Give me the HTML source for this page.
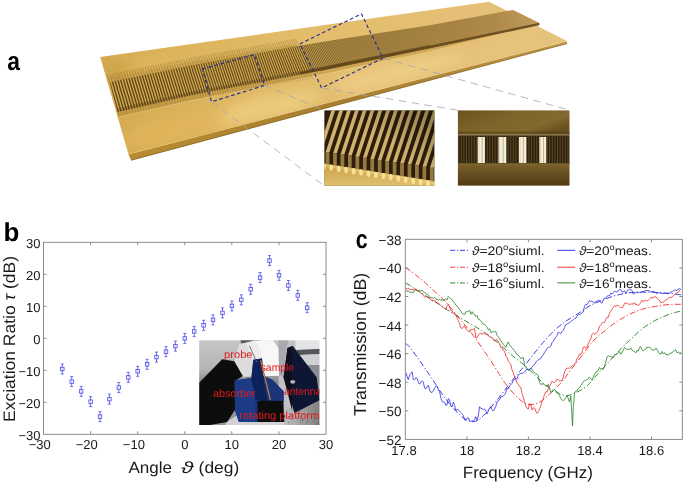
<!DOCTYPE html>
<html><head><meta charset="utf-8"><title>Figure</title>
<style>html,body{margin:0;padding:0;background:#fff;}body{width:685px;height:484px;overflow:hidden;font-family:"Liberation Sans", sans-serif;}svg{display:block;will-change:transform;}text{text-rendering:geometricPrecision;}</style>
</head><body>
<svg width="685" height="484" viewBox="0 0 685 484" font-family='"Liberation Sans", sans-serif'>
<rect width="685" height="484" fill="#fff"/>
<defs>
<linearGradient id="gPlate" gradientUnits="userSpaceOnUse" x1="100" y1="110" x2="567" y2="20">
 <stop offset="0" stop-color="#d4aa50"/><stop offset="0.3" stop-color="#deb762"/><stop offset="0.55" stop-color="#e4bf72"/><stop offset="0.8" stop-color="#e4bf74"/><stop offset="1" stop-color="#e6c47e"/>
</linearGradient>
<linearGradient id="gFront" gradientUnits="userSpaceOnUse" x1="128" y1="157" x2="567" y2="42">
 <stop offset="0" stop-color="#b88c30"/><stop offset="0.5" stop-color="#a87e2e"/><stop offset="1" stop-color="#c29844"/>
</linearGradient>
<linearGradient id="gBand" gradientUnits="userSpaceOnUse" x1="110" y1="0" x2="540" y2="0">
 <stop offset="0" stop-color="#604418"/><stop offset="0.44" stop-color="#684c1c"/><stop offset="0.6" stop-color="#86682e"/><stop offset="0.75" stop-color="#a07c3e"/><stop offset="0.9" stop-color="#b08a4a"/><stop offset="1" stop-color="#c09c5e"/>
</linearGradient>
<filter id="bl1" x="-5%" y="-5%" width="110%" height="110%"><feGaussianBlur stdDeviation="0.6"/></filter>
<filter id="bl2" x="-20%" y="-20%" width="140%" height="140%"><feGaussianBlur stdDeviation="6"/></filter>
<filter id="bl05" x="-5%" y="-5%" width="110%" height="110%"><feGaussianBlur stdDeviation="0.35"/></filter>
<filter id="bl03" x="-5%" y="-5%" width="110%" height="110%"><feGaussianBlur stdDeviation="0.25"/></filter>
<clipPath id="cpPlate"><polygon points="100.2,57 489,1.8 567,41 128.5,154.2"/></clipPath>
</defs>
<g filter="url(#bl03)">
<polygon points="128.5,154.2 567,41.2 567,43.8 131.2,160.4" fill="url(#gFront)"/><polyline points="131.2,160.2 567,43.6" stroke="#7a5a1e" stroke-width="0.9" fill="none" opacity="0.7"/>
<polygon points="100.2,57 489,1.8 567,41 128.5,154.2" fill="url(#gPlate)"/>
<polyline points="128.5,154.2 567,41.2" stroke="#e6c678" stroke-width="0.7" fill="none" opacity="0.7"/>
</g>
<g clip-path="url(#cpPlate)" filter="url(#bl2)"><ellipse cx="265" cy="108" rx="60" ry="12" fill="#efcc80" opacity="0.85" transform="rotate(-14 265 108)"/><ellipse cx="400" cy="72" rx="70" ry="10" fill="#f0d08a" opacity="0.8" transform="rotate(-14 400 72)"/><ellipse cx="170" cy="60" rx="50" ry="7" fill="#dfb860" opacity="0.7" transform="rotate(-9 170 60)"/><ellipse cx="330" cy="30" rx="60" ry="6" fill="#e4be66" opacity="0.7" transform="rotate(-9 330 30)"/><ellipse cx="175" cy="128" rx="55" ry="13" fill="#e3b65c" opacity="0.7" transform="rotate(-14 175 128)"/><ellipse cx="500" cy="50" rx="40" ry="8" fill="#e9c67e" opacity="0.7" transform="rotate(-14 500 50)"/><ellipse cx="118" cy="70" rx="14" ry="10" fill="#caa040" opacity="0.6"/></g>
<clipPath id="cpBand"><polygon points="109.7,82.3 190.0,65.8 290.0,47.6 330.0,40.7 430.0,25.2 513.2,9.9 539.5,23.0 539.5,25.2 430.0,48.6 330.0,69.0 290.0,76.6 190.0,95.6 117.5,112.0"/></clipPath>
<polygon points="117.5,112.0 190.0,95.6 290.0,76.6 330.0,69.0 430.0,48.6 500.0,33.6 430.0,51.0 330.0,73.0 290.0,81.0 190.0,100.6 118.8,117.0" fill="#c09640" opacity="0.6"/>
<polyline points="118.8,116.8 190,100.8 290,81 330,73 400,57.6" fill="none" stroke="#f0d690" stroke-width="0.8" opacity="0.75"/>
<polygon points="109.7,82.3 190.0,65.8 290.0,47.6 300.0,45.8 290.0,45.0 190.0,61.8 108.6,78.0" fill="#c49c44" opacity="0.45"/>
<g filter="url(#bl03)"><polygon points="109.7,82.3 190.0,65.8 290.0,47.6 330.0,40.7 430.0,25.2 513.2,9.9 539.5,23.0 539.5,25.2 430.0,48.6 330.0,69.0 290.0,76.6 190.0,95.6 117.5,112.0" fill="url(#gBand)"/></g>
<g clip-path="url(#cpPlate)" filter="url(#bl05)">
<line x1="107.22" y1="74.80" x2="109.39" y2="82.30" stroke="#7a5a20" stroke-width="1.25" opacity="0.33"/>
<line x1="117.95" y1="111.80" x2="119.40" y2="116.80" stroke="#7a5a20" stroke-width="1.25" opacity="0.3"/>
<line x1="109.99" y1="74.29" x2="112.17" y2="81.79" stroke="#7a5a20" stroke-width="1.25" opacity="0.33"/>
<line x1="120.71" y1="111.17" x2="122.16" y2="116.17" stroke="#7a5a20" stroke-width="1.25" opacity="0.3"/>
<line x1="112.75" y1="73.72" x2="114.93" y2="81.22" stroke="#7a5a20" stroke-width="1.24" opacity="0.33"/>
<line x1="123.49" y1="110.54" x2="124.94" y2="115.54" stroke="#7a5a20" stroke-width="1.24" opacity="0.3"/>
<line x1="115.49" y1="73.16" x2="117.69" y2="80.66" stroke="#7a5a20" stroke-width="1.24" opacity="0.33"/>
<line x1="126.25" y1="109.92" x2="127.72" y2="114.92" stroke="#7a5a20" stroke-width="1.24" opacity="0.3"/>
<line x1="118.23" y1="72.59" x2="120.44" y2="80.09" stroke="#7a5a20" stroke-width="1.23" opacity="0.33"/>
<line x1="129.01" y1="109.30" x2="130.48" y2="114.30" stroke="#7a5a20" stroke-width="1.23" opacity="0.3"/>
<line x1="120.96" y1="72.03" x2="123.17" y2="79.53" stroke="#7a5a20" stroke-width="1.23" opacity="0.33"/>
<line x1="131.76" y1="108.68" x2="133.23" y2="113.68" stroke="#7a5a20" stroke-width="1.23" opacity="0.3"/>
<line x1="123.68" y1="71.47" x2="125.90" y2="78.97" stroke="#7a5a20" stroke-width="1.22" opacity="0.33"/>
<line x1="134.49" y1="108.06" x2="135.97" y2="113.06" stroke="#7a5a20" stroke-width="1.22" opacity="0.3"/>
<line x1="126.39" y1="70.91" x2="128.62" y2="78.41" stroke="#7a5a20" stroke-width="1.22" opacity="0.33"/>
<line x1="137.22" y1="107.45" x2="138.70" y2="112.45" stroke="#7a5a20" stroke-width="1.22" opacity="0.3"/>
<line x1="129.09" y1="70.36" x2="131.32" y2="77.86" stroke="#7a5a20" stroke-width="1.22" opacity="0.33"/>
<line x1="139.94" y1="106.84" x2="141.43" y2="111.84" stroke="#7a5a20" stroke-width="1.22" opacity="0.3"/>
<line x1="131.78" y1="69.80" x2="134.02" y2="77.30" stroke="#7a5a20" stroke-width="1.21" opacity="0.33"/>
<line x1="142.65" y1="106.23" x2="144.14" y2="111.23" stroke="#7a5a20" stroke-width="1.21" opacity="0.3"/>
<line x1="134.46" y1="69.25" x2="136.71" y2="76.75" stroke="#7a5a20" stroke-width="1.21" opacity="0.33"/>
<line x1="145.34" y1="105.62" x2="146.84" y2="110.62" stroke="#7a5a20" stroke-width="1.21" opacity="0.3"/>
<line x1="137.13" y1="68.70" x2="139.38" y2="76.20" stroke="#7a5a20" stroke-width="1.20" opacity="0.33"/>
<line x1="148.03" y1="105.01" x2="149.53" y2="110.01" stroke="#7a5a20" stroke-width="1.20" opacity="0.3"/>
<line x1="139.80" y1="68.15" x2="142.05" y2="75.65" stroke="#7a5a20" stroke-width="1.20" opacity="0.33"/>
<line x1="150.71" y1="104.41" x2="152.22" y2="109.41" stroke="#7a5a20" stroke-width="1.20" opacity="0.3"/>
<line x1="142.45" y1="67.61" x2="144.71" y2="75.11" stroke="#7a5a20" stroke-width="1.19" opacity="0.33"/>
<line x1="153.38" y1="103.81" x2="154.89" y2="108.81" stroke="#7a5a20" stroke-width="1.19" opacity="0.3"/>
<line x1="145.09" y1="67.06" x2="147.36" y2="74.56" stroke="#7a5a20" stroke-width="1.19" opacity="0.33"/>
<line x1="156.04" y1="103.21" x2="157.55" y2="108.21" stroke="#7a5a20" stroke-width="1.19" opacity="0.3"/>
<line x1="147.72" y1="66.52" x2="150.00" y2="74.02" stroke="#7a5a20" stroke-width="1.19" opacity="0.33"/>
<line x1="158.69" y1="102.61" x2="160.21" y2="107.61" stroke="#7a5a20" stroke-width="1.19" opacity="0.3"/>
<line x1="150.35" y1="65.98" x2="152.63" y2="73.48" stroke="#7a5a20" stroke-width="1.18" opacity="0.33"/>
<line x1="161.33" y1="102.02" x2="162.85" y2="107.02" stroke="#7a5a20" stroke-width="1.18" opacity="0.3"/>
<line x1="152.96" y1="65.44" x2="155.25" y2="72.94" stroke="#7a5a20" stroke-width="1.18" opacity="0.33"/>
<line x1="163.96" y1="101.42" x2="165.48" y2="106.42" stroke="#7a5a20" stroke-width="1.18" opacity="0.3"/>
<line x1="155.56" y1="64.90" x2="157.86" y2="72.40" stroke="#7a5a20" stroke-width="1.17" opacity="0.33"/>
<line x1="166.58" y1="100.83" x2="168.11" y2="105.83" stroke="#7a5a20" stroke-width="1.17" opacity="0.3"/>
<line x1="158.16" y1="64.37" x2="160.46" y2="71.87" stroke="#7a5a20" stroke-width="1.17" opacity="0.33"/>
<line x1="169.19" y1="100.25" x2="170.72" y2="105.25" stroke="#7a5a20" stroke-width="1.17" opacity="0.3"/>
<line x1="160.74" y1="63.84" x2="163.06" y2="71.34" stroke="#7a5a20" stroke-width="1.16" opacity="0.33"/>
<line x1="171.79" y1="99.66" x2="173.33" y2="104.66" stroke="#7a5a20" stroke-width="1.16" opacity="0.3"/>
<line x1="163.32" y1="63.31" x2="165.64" y2="70.81" stroke="#7a5a20" stroke-width="1.16" opacity="0.33"/>
<line x1="174.38" y1="99.07" x2="175.93" y2="104.07" stroke="#7a5a20" stroke-width="1.16" opacity="0.3"/>
<line x1="165.89" y1="62.78" x2="168.21" y2="70.28" stroke="#7a5a20" stroke-width="1.16" opacity="0.33"/>
<line x1="176.96" y1="98.49" x2="178.51" y2="103.49" stroke="#7a5a20" stroke-width="1.16" opacity="0.3"/>
<line x1="168.44" y1="62.25" x2="170.78" y2="69.75" stroke="#7a5a20" stroke-width="1.15" opacity="0.33"/>
<line x1="179.53" y1="97.91" x2="181.09" y2="102.91" stroke="#7a5a20" stroke-width="1.15" opacity="0.3"/>
<line x1="170.99" y1="61.72" x2="173.33" y2="69.22" stroke="#7a5a20" stroke-width="1.15" opacity="0.33"/>
<line x1="182.10" y1="97.33" x2="183.66" y2="102.33" stroke="#7a5a20" stroke-width="1.15" opacity="0.3"/>
<line x1="173.53" y1="61.20" x2="175.88" y2="68.70" stroke="#7a5a20" stroke-width="1.14" opacity="0.33"/>
<line x1="184.65" y1="96.76" x2="186.22" y2="101.76" stroke="#7a5a20" stroke-width="1.14" opacity="0.3"/>
<line x1="176.06" y1="60.68" x2="178.42" y2="68.18" stroke="#7a5a20" stroke-width="1.14" opacity="0.33"/>
<line x1="187.20" y1="96.18" x2="188.76" y2="101.18" stroke="#7a5a20" stroke-width="1.14" opacity="0.3"/>
<line x1="178.58" y1="60.16" x2="180.94" y2="67.66" stroke="#7a5a20" stroke-width="1.14" opacity="0.33"/>
<line x1="189.73" y1="95.61" x2="191.30" y2="100.61" stroke="#7a5a20" stroke-width="1.14" opacity="0.3"/>
<line x1="181.10" y1="59.64" x2="183.46" y2="67.14" stroke="#7a5a20" stroke-width="1.13" opacity="0.33"/>
<line x1="192.29" y1="95.13" x2="193.86" y2="100.13" stroke="#7a5a20" stroke-width="1.13" opacity="0.3"/>
<line x1="183.60" y1="59.13" x2="185.97" y2="66.63" stroke="#7a5a20" stroke-width="1.13" opacity="0.33"/>
<line x1="194.83" y1="94.66" x2="196.41" y2="99.66" stroke="#7a5a20" stroke-width="1.13" opacity="0.3"/>
<line x1="186.09" y1="58.61" x2="188.47" y2="66.11" stroke="#7a5a20" stroke-width="1.12" opacity="0.33"/>
<line x1="197.37" y1="94.18" x2="198.96" y2="99.18" stroke="#7a5a20" stroke-width="1.12" opacity="0.3"/>
<line x1="188.58" y1="58.12" x2="190.96" y2="65.62" stroke="#7a5a20" stroke-width="1.12" opacity="0.33"/>
<line x1="199.89" y1="93.71" x2="201.48" y2="98.71" stroke="#7a5a20" stroke-width="1.12" opacity="0.3"/>
<line x1="191.05" y1="57.67" x2="193.45" y2="65.17" stroke="#7a5a20" stroke-width="1.12" opacity="0.33"/>
<line x1="202.39" y1="93.24" x2="203.98" y2="98.24" stroke="#7a5a20" stroke-width="1.12" opacity="0.3"/>
<line x1="193.52" y1="57.22" x2="195.92" y2="64.72" stroke="#7a5a20" stroke-width="1.11" opacity="0.33"/>
<line x1="204.88" y1="92.77" x2="206.48" y2="97.77" stroke="#7a5a20" stroke-width="1.11" opacity="0.3"/>
<line x1="195.98" y1="56.77" x2="198.38" y2="64.27" stroke="#7a5a20" stroke-width="1.11" opacity="0.33"/>
<line x1="207.36" y1="92.30" x2="208.97" y2="97.30" stroke="#7a5a20" stroke-width="1.11" opacity="0.3"/>
<line x1="198.43" y1="56.33" x2="200.84" y2="63.83" stroke="#7a5a20" stroke-width="1.10" opacity="0.33"/>
<line x1="209.84" y1="91.83" x2="211.44" y2="96.83" stroke="#7a5a20" stroke-width="1.10" opacity="0.3"/>
<line x1="200.87" y1="55.88" x2="203.29" y2="63.38" stroke="#7a5a20" stroke-width="1.10" opacity="0.33"/>
<line x1="212.30" y1="91.37" x2="213.91" y2="96.37" stroke="#7a5a20" stroke-width="1.10" opacity="0.3"/>
<line x1="203.30" y1="55.44" x2="205.72" y2="62.94" stroke="#7a5a20" stroke-width="1.10" opacity="0.33"/>
<line x1="214.76" y1="90.90" x2="216.37" y2="95.90" stroke="#7a5a20" stroke-width="1.10" opacity="0.3"/>
<line x1="205.73" y1="55.00" x2="208.15" y2="62.50" stroke="#7a5a20" stroke-width="1.09" opacity="0.33"/>
<line x1="217.20" y1="90.44" x2="218.82" y2="95.44" stroke="#7a5a20" stroke-width="1.09" opacity="0.3"/>
<line x1="208.14" y1="54.56" x2="210.57" y2="62.06" stroke="#7a5a20" stroke-width="1.09" opacity="0.33"/>
<line x1="219.64" y1="89.98" x2="221.27" y2="94.98" stroke="#7a5a20" stroke-width="1.09" opacity="0.3"/>
<line x1="210.55" y1="54.12" x2="212.99" y2="61.62" stroke="#7a5a20" stroke-width="1.08" opacity="0.33"/>
<line x1="222.07" y1="89.52" x2="223.70" y2="94.52" stroke="#7a5a20" stroke-width="1.08" opacity="0.3"/>
<line x1="212.94" y1="53.68" x2="215.39" y2="61.18" stroke="#7a5a20" stroke-width="1.08" opacity="0.33"/>
<line x1="224.49" y1="89.07" x2="226.12" y2="94.07" stroke="#7a5a20" stroke-width="1.08" opacity="0.3"/>
<line x1="215.33" y1="53.24" x2="217.78" y2="60.74" stroke="#7a5a20" stroke-width="1.08" opacity="0.33"/>
<line x1="226.90" y1="88.61" x2="228.54" y2="93.61" stroke="#7a5a20" stroke-width="1.08" opacity="0.3"/>
<line x1="217.71" y1="52.81" x2="220.17" y2="60.31" stroke="#7a5a20" stroke-width="1.07" opacity="0.33"/>
<line x1="229.30" y1="88.16" x2="230.94" y2="93.16" stroke="#7a5a20" stroke-width="1.07" opacity="0.3"/>
<line x1="220.08" y1="52.38" x2="222.55" y2="59.88" stroke="#7a5a20" stroke-width="1.07" opacity="0.33"/>
<line x1="231.70" y1="87.71" x2="233.34" y2="92.71" stroke="#7a5a20" stroke-width="1.07" opacity="0.3"/>
<line x1="222.44" y1="51.95" x2="224.92" y2="59.45" stroke="#7a5a20" stroke-width="1.06" opacity="0.33"/>
<line x1="234.08" y1="87.26" x2="235.73" y2="92.26" stroke="#7a5a20" stroke-width="1.06" opacity="0.3"/>
<line x1="224.80" y1="51.52" x2="227.28" y2="59.02" stroke="#7a5a20" stroke-width="1.06" opacity="0.33"/>
<line x1="236.46" y1="86.81" x2="238.11" y2="91.81" stroke="#7a5a20" stroke-width="1.06" opacity="0.3"/>
<line x1="227.14" y1="51.09" x2="229.63" y2="58.59" stroke="#7a5a20" stroke-width="1.06" opacity="0.33"/>
<line x1="238.83" y1="86.36" x2="240.48" y2="91.36" stroke="#7a5a20" stroke-width="1.06" opacity="0.3"/>
<line x1="229.48" y1="50.66" x2="231.97" y2="58.16" stroke="#7a5a20" stroke-width="1.05" opacity="0.33"/>
<line x1="241.19" y1="85.92" x2="242.85" y2="90.92" stroke="#7a5a20" stroke-width="1.05" opacity="0.3"/>
<line x1="231.81" y1="50.24" x2="234.31" y2="57.74" stroke="#7a5a20" stroke-width="1.05" opacity="0.33"/>
<line x1="243.54" y1="85.47" x2="245.20" y2="90.47" stroke="#7a5a20" stroke-width="1.05" opacity="0.3"/>
<line x1="234.13" y1="49.81" x2="236.63" y2="57.31" stroke="#7a5a20" stroke-width="1.05" opacity="0.33"/>
<line x1="245.88" y1="85.03" x2="247.55" y2="90.03" stroke="#7a5a20" stroke-width="1.05" opacity="0.3"/>
<line x1="236.44" y1="49.39" x2="238.95" y2="56.89" stroke="#7a5a20" stroke-width="1.04" opacity="0.33"/>
<line x1="248.22" y1="84.59" x2="249.89" y2="89.59" stroke="#7a5a20" stroke-width="1.04" opacity="0.3"/>
<line x1="238.75" y1="48.97" x2="241.26" y2="56.47" stroke="#7a5a20" stroke-width="1.04" opacity="0.33"/>
<line x1="250.54" y1="84.15" x2="252.22" y2="89.15" stroke="#7a5a20" stroke-width="1.04" opacity="0.3"/>
<line x1="241.04" y1="48.55" x2="243.56" y2="56.05" stroke="#7a5a20" stroke-width="1.03" opacity="0.33"/>
<line x1="252.86" y1="83.71" x2="254.54" y2="88.71" stroke="#7a5a20" stroke-width="1.03" opacity="0.3"/>
<line x1="243.33" y1="48.13" x2="245.86" y2="55.63" stroke="#7a5a20" stroke-width="1.03" opacity="0.33"/>
<line x1="255.17" y1="83.28" x2="256.85" y2="88.28" stroke="#7a5a20" stroke-width="1.03" opacity="0.3"/>
<line x1="245.61" y1="47.72" x2="248.14" y2="55.22" stroke="#7a5a20" stroke-width="1.03" opacity="0.33"/>
<line x1="257.47" y1="82.84" x2="259.16" y2="87.84" stroke="#7a5a20" stroke-width="1.03" opacity="0.3"/>
<line x1="247.88" y1="47.30" x2="250.42" y2="54.80" stroke="#7a5a20" stroke-width="1.02" opacity="0.33"/>
<line x1="259.76" y1="82.41" x2="261.45" y2="87.41" stroke="#7a5a20" stroke-width="1.02" opacity="0.3"/>
<line x1="250.14" y1="46.89" x2="252.69" y2="54.39" stroke="#7a5a20" stroke-width="1.02" opacity="0.33"/>
<line x1="262.04" y1="81.98" x2="263.74" y2="86.98" stroke="#7a5a20" stroke-width="1.02" opacity="0.3"/>
<line x1="252.40" y1="46.48" x2="254.95" y2="53.98" stroke="#7a5a20" stroke-width="1.02" opacity="0.33"/>
<line x1="264.32" y1="81.55" x2="266.02" y2="86.55" stroke="#7a5a20" stroke-width="1.02" opacity="0.3"/>
<line x1="254.61" y1="46.07" x2="257.20" y2="53.57" stroke="#7a5a20" stroke-width="1.01" opacity="0.33"/>
<line x1="266.70" y1="81.12" x2="268.42" y2="86.12" stroke="#7a5a20" stroke-width="1.01" opacity="0.3"/>
<line x1="256.82" y1="45.66" x2="259.44" y2="53.16" stroke="#7a5a20" stroke-width="1.01" opacity="0.33"/>
<line x1="269.07" y1="80.70" x2="270.82" y2="85.70" stroke="#7a5a20" stroke-width="1.01" opacity="0.3"/>
<line x1="259.02" y1="45.25" x2="261.68" y2="52.75" stroke="#7a5a20" stroke-width="1.00" opacity="0.33"/>
<line x1="271.44" y1="80.27" x2="273.21" y2="85.27" stroke="#7a5a20" stroke-width="1.00" opacity="0.3"/>
<line x1="261.21" y1="44.85" x2="263.91" y2="52.35" stroke="#7a5a20" stroke-width="1.00" opacity="0.33"/>
<line x1="273.79" y1="79.85" x2="275.59" y2="84.85" stroke="#7a5a20" stroke-width="1.00" opacity="0.3"/>
<line x1="263.39" y1="44.44" x2="266.13" y2="51.94" stroke="#7a5a20" stroke-width="1.00" opacity="0.33"/>
<line x1="276.14" y1="79.43" x2="277.96" y2="84.43" stroke="#7a5a20" stroke-width="1.00" opacity="0.3"/>
<line x1="265.57" y1="44.04" x2="268.34" y2="51.54" stroke="#7a5a20" stroke-width="0.99" opacity="0.33"/>
<line x1="278.48" y1="79.01" x2="280.32" y2="84.01" stroke="#7a5a20" stroke-width="0.99" opacity="0.3"/>
<line x1="267.74" y1="43.64" x2="270.54" y2="51.14" stroke="#7a5a20" stroke-width="0.99" opacity="0.33"/>
<line x1="280.80" y1="78.59" x2="282.67" y2="83.59" stroke="#7a5a20" stroke-width="0.99" opacity="0.3"/>
<line x1="269.90" y1="43.24" x2="272.74" y2="50.74" stroke="#7a5a20" stroke-width="0.99" opacity="0.33"/>
<line x1="283.13" y1="78.17" x2="285.02" y2="83.17" stroke="#7a5a20" stroke-width="0.99" opacity="0.3"/>
<line x1="272.05" y1="42.84" x2="274.93" y2="50.34" stroke="#7a5a20" stroke-width="0.98" opacity="0.33"/>
<line x1="285.44" y1="77.75" x2="287.36" y2="82.75" stroke="#7a5a20" stroke-width="0.98" opacity="0.3"/>
<line x1="274.20" y1="42.45" x2="277.11" y2="49.95" stroke="#7a5a20" stroke-width="0.98" opacity="0.33"/>
<line x1="287.74" y1="77.34" x2="289.68" y2="82.34" stroke="#7a5a20" stroke-width="0.98" opacity="0.3"/>
<line x1="276.33" y1="42.05" x2="279.28" y2="49.55" stroke="#7a5a20" stroke-width="0.98" opacity="0.33"/>
<line x1="290.04" y1="76.93" x2="292.00" y2="81.93" stroke="#7a5a20" stroke-width="0.98" opacity="0.3"/>
<line x1="278.46" y1="41.66" x2="281.44" y2="49.16" stroke="#7a5a20" stroke-width="0.97" opacity="0.33"/>
<line x1="292.32" y1="76.52" x2="294.31" y2="81.52" stroke="#7a5a20" stroke-width="0.97" opacity="0.3"/>
<line x1="280.58" y1="41.26" x2="283.60" y2="48.76" stroke="#7a5a20" stroke-width="0.97" opacity="0.33"/>
<line x1="294.60" y1="76.11" x2="296.62" y2="81.11" stroke="#7a5a20" stroke-width="0.97" opacity="0.3"/>
<line x1="282.70" y1="40.87" x2="285.75" y2="48.37" stroke="#7a5a20" stroke-width="0.97" opacity="0.33"/>
<line x1="296.87" y1="75.70" x2="298.91" y2="80.70" stroke="#7a5a20" stroke-width="0.97" opacity="0.3"/>
<line x1="284.80" y1="40.48" x2="287.89" y2="47.98" stroke="#7a5a20" stroke-width="0.96" opacity="0.33"/>
<line x1="299.14" y1="75.29" x2="301.19" y2="80.29" stroke="#7a5a20" stroke-width="0.96" opacity="0.3"/>
<line x1="286.90" y1="40.10" x2="290.02" y2="47.60" stroke="#7a5a20" stroke-width="0.96" opacity="0.33"/>
<line x1="301.39" y1="74.89" x2="303.47" y2="79.89" stroke="#7a5a20" stroke-width="0.96" opacity="0.3"/>
<line x1="288.99" y1="39.73" x2="292.15" y2="47.23" stroke="#7a5a20" stroke-width="0.95" opacity="0.33"/>
<line x1="303.63" y1="74.48" x2="305.73" y2="79.48" stroke="#7a5a20" stroke-width="0.95" opacity="0.3"/>
<line x1="291.08" y1="39.36" x2="294.27" y2="46.86" stroke="#7a5a20" stroke-width="0.95" opacity="0.33"/>
<line x1="305.85" y1="74.08" x2="307.98" y2="79.08" stroke="#7a5a20" stroke-width="0.95" opacity="0.3"/>
<line x1="293.15" y1="39.00" x2="296.38" y2="46.50" stroke="#7a5a20" stroke-width="0.95" opacity="0.33"/>
<line x1="308.07" y1="73.68" x2="310.23" y2="78.68" stroke="#7a5a20" stroke-width="0.95" opacity="0.3"/>
<line x1="295.22" y1="38.64" x2="298.48" y2="46.14" stroke="#7a5a20" stroke-width="0.94" opacity="0.33"/>
<line x1="310.29" y1="73.28" x2="312.46" y2="78.28" stroke="#7a5a20" stroke-width="0.94" opacity="0.3"/>
</g>
<g clip-path="url(#cpBand)">
<line x1="108.00" y1="81.30" x2="117.45" y2="113.89" stroke="#d2aa50" stroke-width="1.45"/>
<line x1="110.78" y1="81.08" x2="120.12" y2="113.26" stroke="#d2aa50" stroke-width="1.44"/>
<line x1="113.55" y1="80.51" x2="122.91" y2="112.63" stroke="#d2aa50" stroke-width="1.44"/>
<line x1="116.31" y1="79.94" x2="125.68" y2="112.01" stroke="#d2aa50" stroke-width="1.43"/>
<line x1="119.06" y1="79.38" x2="128.45" y2="111.38" stroke="#d2aa50" stroke-width="1.43"/>
<line x1="121.81" y1="78.81" x2="131.20" y2="110.76" stroke="#d2aa50" stroke-width="1.42"/>
<line x1="124.54" y1="78.25" x2="133.95" y2="110.15" stroke="#d2aa50" stroke-width="1.42"/>
<line x1="127.26" y1="77.69" x2="136.68" y2="109.53" stroke="#d2aa50" stroke-width="1.41"/>
<line x1="129.97" y1="77.13" x2="139.41" y2="108.92" stroke="#d2aa50" stroke-width="1.41"/>
<line x1="132.67" y1="76.58" x2="142.12" y2="108.31" stroke="#d2aa50" stroke-width="1.40"/>
<line x1="135.37" y1="76.03" x2="144.83" y2="107.70" stroke="#d2aa50" stroke-width="1.39"/>
<line x1="138.05" y1="75.47" x2="147.52" y2="107.09" stroke="#d2aa50" stroke-width="1.39"/>
<line x1="140.72" y1="74.93" x2="150.21" y2="106.49" stroke="#d2aa50" stroke-width="1.38"/>
<line x1="143.38" y1="74.38" x2="152.88" y2="105.88" stroke="#d2aa50" stroke-width="1.38"/>
<line x1="146.04" y1="73.83" x2="155.55" y2="105.28" stroke="#d2aa50" stroke-width="1.38"/>
<line x1="148.68" y1="73.29" x2="158.21" y2="104.68" stroke="#d2aa50" stroke-width="1.37"/>
<line x1="151.32" y1="72.75" x2="160.85" y2="104.09" stroke="#d2aa50" stroke-width="1.37"/>
<line x1="153.94" y1="72.21" x2="163.49" y2="103.49" stroke="#d2aa50" stroke-width="1.36"/>
<line x1="156.56" y1="71.67" x2="166.12" y2="102.90" stroke="#d2aa50" stroke-width="1.36"/>
<line x1="159.17" y1="71.14" x2="168.74" y2="102.31" stroke="#d2aa50" stroke-width="1.35"/>
<line x1="161.76" y1="70.60" x2="171.34" y2="101.73" stroke="#d2aa50" stroke-width="1.35"/>
<line x1="164.35" y1="70.07" x2="173.94" y2="101.14" stroke="#d2aa50" stroke-width="1.34"/>
<line x1="166.93" y1="69.54" x2="176.53" y2="100.56" stroke="#d2aa50" stroke-width="1.34"/>
<line x1="169.50" y1="69.01" x2="179.11" y2="99.98" stroke="#d2aa50" stroke-width="1.33"/>
<line x1="172.06" y1="68.49" x2="181.68" y2="99.40" stroke="#d2aa50" stroke-width="1.33"/>
<line x1="174.61" y1="67.96" x2="184.24" y2="98.82" stroke="#d2aa50" stroke-width="1.32"/>
<line x1="177.15" y1="67.44" x2="186.80" y2="98.24" stroke="#d2aa50" stroke-width="1.32"/>
<line x1="179.68" y1="66.92" x2="189.34" y2="97.67" stroke="#d2aa50" stroke-width="1.31"/>
<line x1="182.20" y1="66.40" x2="191.90" y2="97.18" stroke="#d2aa50" stroke-width="1.31"/>
<line x1="184.72" y1="65.89" x2="194.45" y2="96.70" stroke="#d2aa50" stroke-width="1.30"/>
<line x1="187.22" y1="65.37" x2="196.99" y2="96.23" stroke="#d2aa50" stroke-width="1.30"/>
<line x1="189.72" y1="64.86" x2="199.53" y2="95.75" stroke="#d2aa50" stroke-width="1.29"/>
<line x1="192.21" y1="64.40" x2="202.04" y2="95.28" stroke="#d2aa50" stroke-width="1.29"/>
<line x1="194.68" y1="63.95" x2="204.54" y2="94.81" stroke="#d2aa50" stroke-width="1.28"/>
<line x1="197.15" y1="63.50" x2="207.03" y2="94.34" stroke="#d2aa50" stroke-width="1.28"/>
<line x1="199.61" y1="63.05" x2="209.51" y2="93.87" stroke="#d2aa50" stroke-width="1.27"/>
<line x1="202.07" y1="62.60" x2="211.98" y2="93.41" stroke="#d2aa50" stroke-width="1.27"/>
<line x1="204.51" y1="62.16" x2="214.44" y2="92.94" stroke="#d2aa50" stroke-width="1.27"/>
<line x1="206.94" y1="61.72" x2="216.89" y2="92.48" stroke="#d2aa50" stroke-width="1.26"/>
<line x1="209.37" y1="61.28" x2="219.34" y2="92.02" stroke="#d2aa50" stroke-width="1.26"/>
<line x1="211.78" y1="60.84" x2="221.77" y2="91.56" stroke="#d2aa50" stroke-width="1.25"/>
<line x1="214.19" y1="60.40" x2="224.20" y2="91.10" stroke="#d2aa50" stroke-width="1.25"/>
<line x1="216.59" y1="59.96" x2="226.62" y2="90.65" stroke="#d2aa50" stroke-width="1.24"/>
<line x1="218.98" y1="59.53" x2="229.03" y2="90.19" stroke="#d2aa50" stroke-width="1.24"/>
<line x1="221.36" y1="59.09" x2="231.43" y2="89.74" stroke="#d2aa50" stroke-width="1.23"/>
<line x1="223.73" y1="58.66" x2="233.82" y2="89.29" stroke="#d2aa50" stroke-width="1.23"/>
<line x1="226.10" y1="58.23" x2="236.20" y2="88.84" stroke="#d2aa50" stroke-width="1.23"/>
<line x1="228.46" y1="57.80" x2="238.58" y2="88.39" stroke="#d2aa50" stroke-width="1.22"/>
<line x1="230.80" y1="57.37" x2="240.94" y2="87.95" stroke="#d2aa50" stroke-width="1.22"/>
<line x1="233.14" y1="56.95" x2="243.30" y2="87.50" stroke="#d2aa50" stroke-width="1.21"/>
<line x1="235.47" y1="56.52" x2="245.65" y2="87.06" stroke="#d2aa50" stroke-width="1.21"/>
<line x1="237.79" y1="56.10" x2="247.99" y2="86.62" stroke="#d2aa50" stroke-width="1.20"/>
<line x1="240.11" y1="55.68" x2="250.32" y2="86.18" stroke="#d2aa50" stroke-width="1.20"/>
<line x1="242.41" y1="55.26" x2="252.65" y2="85.74" stroke="#d2aa50" stroke-width="1.19"/>
<line x1="244.71" y1="54.84" x2="254.96" y2="85.30" stroke="#d2aa50" stroke-width="1.19"/>
<line x1="247.00" y1="54.43" x2="257.27" y2="84.87" stroke="#d2aa50" stroke-width="1.19"/>
<line x1="249.28" y1="54.01" x2="259.57" y2="84.44" stroke="#d2aa50" stroke-width="1.18"/>
<line x1="251.55" y1="53.60" x2="261.86" y2="84.00" stroke="#d2aa50" stroke-width="1.18"/>
<line x1="253.82" y1="53.19" x2="264.14" y2="83.57" stroke="#d2aa50" stroke-width="1.17"/>
<line x1="256.07" y1="52.77" x2="266.47" y2="83.15" stroke="#d2aa50" stroke-width="1.17"/>
<line x1="258.32" y1="52.37" x2="268.86" y2="82.72" stroke="#d2aa50" stroke-width="1.16"/>
<line x1="260.56" y1="51.96" x2="271.25" y2="82.29" stroke="#d2aa50" stroke-width="1.16"/>
<line x1="262.79" y1="51.55" x2="273.62" y2="81.87" stroke="#d2aa50" stroke-width="1.16"/>
<line x1="265.02" y1="51.15" x2="275.98" y2="81.45" stroke="#d2aa50" stroke-width="1.15"/>
<line x1="267.23" y1="50.74" x2="278.34" y2="81.03" stroke="#d2aa50" stroke-width="1.15"/>
<line x1="269.44" y1="50.34" x2="280.69" y2="80.61" stroke="#d2aa50" stroke-width="1.14"/>
<line x1="271.64" y1="49.94" x2="283.02" y2="80.19" stroke="#d2aa50" stroke-width="1.14"/>
<line x1="273.83" y1="49.54" x2="285.35" y2="79.77" stroke="#d2aa50" stroke-width="1.14"/>
<line x1="276.02" y1="49.14" x2="287.68" y2="79.36" stroke="#d2aa50" stroke-width="1.13"/>
<line x1="278.20" y1="48.75" x2="289.99" y2="78.94" stroke="#d2aa50" stroke-width="1.13"/>
<line x1="280.36" y1="48.35" x2="292.29" y2="78.53" stroke="#d2aa50" stroke-width="1.12"/>
<line x1="282.52" y1="47.96" x2="294.59" y2="78.12" stroke="#d2aa50" stroke-width="1.12"/>
<line x1="284.68" y1="47.57" x2="296.88" y2="77.71" stroke="#d2aa50" stroke-width="1.12"/>
<line x1="286.82" y1="47.18" x2="299.16" y2="77.30" stroke="#d2aa50" stroke-width="1.11"/>
<line x1="288.96" y1="46.79" x2="301.43" y2="76.90" stroke="#d2aa50" stroke-width="1.11"/>
<line x1="291.09" y1="46.41" x2="303.69" y2="76.49" stroke="#d2aa50" stroke-width="1.10"/>
<line x1="293.21" y1="46.05" x2="305.93" y2="76.09" stroke="#d2aa50" stroke-width="1.10"/>
<line x1="295.33" y1="45.68" x2="308.17" y2="75.69" stroke="#d2aa50" stroke-width="1.10"/>
<line x1="297.43" y1="45.32" x2="310.40" y2="75.29" stroke="#d2aa50" stroke-width="1.09"/>
<line x1="299.53" y1="44.96" x2="312.45" y2="74.51" stroke="#d4b060" stroke-width="0.95" opacity="0.91"/>
<line x1="301.18" y1="44.67" x2="314.19" y2="74.20" stroke="#d4b060" stroke-width="0.95" opacity="0.90"/>
<line x1="302.81" y1="44.39" x2="315.92" y2="73.89" stroke="#d4b060" stroke-width="0.94" opacity="0.89"/>
<line x1="304.44" y1="44.11" x2="317.64" y2="73.58" stroke="#d4b060" stroke-width="0.94" opacity="0.89"/>
<line x1="306.06" y1="43.83" x2="319.35" y2="73.27" stroke="#d4b060" stroke-width="0.94" opacity="0.88"/>
<line x1="307.67" y1="43.55" x2="321.05" y2="72.96" stroke="#d4b060" stroke-width="0.93" opacity="0.87"/>
<line x1="309.28" y1="43.27" x2="322.75" y2="72.66" stroke="#d4b060" stroke-width="0.93" opacity="0.86"/>
<line x1="310.88" y1="43.00" x2="324.40" y2="72.35" stroke="#d4b060" stroke-width="0.92" opacity="0.85"/>
<line x1="312.47" y1="42.72" x2="326.01" y2="72.05" stroke="#d4b060" stroke-width="0.92" opacity="0.84"/>
<line x1="314.06" y1="42.45" x2="327.61" y2="71.75" stroke="#d4b060" stroke-width="0.92" opacity="0.84"/>
<line x1="315.63" y1="42.18" x2="329.21" y2="71.45" stroke="#d4b060" stroke-width="0.91" opacity="0.83"/>
<line x1="317.21" y1="41.91" x2="330.80" y2="71.15" stroke="#d4b060" stroke-width="0.91" opacity="0.82"/>
<line x1="318.77" y1="41.64" x2="332.37" y2="70.84" stroke="#d4b060" stroke-width="0.90" opacity="0.81"/>
<line x1="320.33" y1="41.37" x2="333.94" y2="70.53" stroke="#d4b060" stroke-width="0.90" opacity="0.80"/>
<line x1="321.87" y1="41.10" x2="335.49" y2="70.21" stroke="#d4b060" stroke-width="0.89" opacity="0.80"/>
<line x1="323.42" y1="40.84" x2="337.04" y2="69.89" stroke="#d4b060" stroke-width="0.89" opacity="0.79"/>
<line x1="324.95" y1="40.57" x2="338.59" y2="69.58" stroke="#d4b060" stroke-width="0.89" opacity="0.78"/>
<line x1="326.48" y1="40.31" x2="340.12" y2="69.27" stroke="#d4b060" stroke-width="0.88" opacity="0.77"/>
<line x1="328.00" y1="40.04" x2="341.65" y2="68.96" stroke="#d4b060" stroke-width="0.88" opacity="0.76"/>
<line x1="329.52" y1="39.78" x2="343.17" y2="68.65" stroke="#d4b060" stroke-width="0.87" opacity="0.76"/>
<line x1="331.03" y1="39.54" x2="344.68" y2="68.34" stroke="#d4b060" stroke-width="0.87" opacity="0.75"/>
<line x1="332.53" y1="39.31" x2="346.17" y2="68.04" stroke="#d4b060" stroke-width="0.87" opacity="0.74"/>
<line x1="334.02" y1="39.08" x2="347.66" y2="67.73" stroke="#d4b060" stroke-width="0.86" opacity="0.73"/>
<line x1="335.51" y1="38.85" x2="349.14" y2="67.43" stroke="#d4b060" stroke-width="0.86" opacity="0.72"/>
<line x1="336.99" y1="38.62" x2="350.62" y2="67.13" stroke="#d4b060" stroke-width="0.86" opacity="0.72"/>
<line x1="338.47" y1="38.39" x2="352.09" y2="66.82" stroke="#d4b060" stroke-width="0.85" opacity="0.71"/>
<line x1="339.93" y1="38.16" x2="353.55" y2="66.53" stroke="#d4b060" stroke-width="0.85" opacity="0.70"/>
<line x1="341.40" y1="37.93" x2="355.00" y2="66.23" stroke="#d4b060" stroke-width="0.84" opacity="0.69"/>
<line x1="342.85" y1="37.71" x2="356.45" y2="65.93" stroke="#d4b060" stroke-width="0.84" opacity="0.69"/>
<line x1="344.30" y1="37.48" x2="357.89" y2="65.64" stroke="#d4b060" stroke-width="0.84" opacity="0.68"/>
<line x1="345.74" y1="37.26" x2="359.33" y2="65.34" stroke="#d4b060" stroke-width="0.83" opacity="0.67"/>
<line x1="347.18" y1="37.04" x2="360.75" y2="65.05" stroke="#d4b060" stroke-width="0.83" opacity="0.66"/>
<line x1="348.60" y1="36.82" x2="362.18" y2="64.76" stroke="#d4b060" stroke-width="0.82" opacity="0.66"/>
<line x1="350.03" y1="36.60" x2="363.59" y2="64.47" stroke="#d4b060" stroke-width="0.82" opacity="0.65"/>
<line x1="351.44" y1="36.38" x2="365.00" y2="64.18" stroke="#d4b060" stroke-width="0.82" opacity="0.64"/>
<line x1="352.85" y1="36.16" x2="366.40" y2="63.89" stroke="#d4b060" stroke-width="0.81" opacity="0.63"/>
<line x1="354.25" y1="35.94" x2="367.80" y2="63.60" stroke="#d4b060" stroke-width="0.81" opacity="0.63"/>
<line x1="355.65" y1="35.72" x2="369.19" y2="63.32" stroke="#d4b060" stroke-width="0.81" opacity="0.62"/>
<line x1="357.04" y1="35.51" x2="370.57" y2="63.04" stroke="#d4b060" stroke-width="0.80" opacity="0.61"/>
<line x1="358.43" y1="35.29" x2="371.94" y2="62.75" stroke="#d4b060" stroke-width="0.80" opacity="0.61"/>
<line x1="359.80" y1="35.08" x2="373.31" y2="62.47" stroke="#d4b060" stroke-width="0.80" opacity="0.60"/>
<line x1="361.18" y1="34.87" x2="374.68" y2="62.19" stroke="#d4b060" stroke-width="0.79" opacity="0.59"/>
<line x1="362.54" y1="34.66" x2="376.04" y2="61.91" stroke="#d4b060" stroke-width="0.79" opacity="0.58"/>
<line x1="363.90" y1="34.45" x2="377.39" y2="61.64" stroke="#d4b060" stroke-width="0.78" opacity="0.58"/>
<line x1="365.26" y1="34.24" x2="378.73" y2="61.36" stroke="#d4b060" stroke-width="0.78" opacity="0.57"/>
<line x1="366.60" y1="34.03" x2="380.07" y2="61.09" stroke="#d4b060" stroke-width="0.78" opacity="0.56"/>
<line x1="367.94" y1="33.82" x2="381.40" y2="60.81" stroke="#d4b060" stroke-width="0.77" opacity="0.56"/>
<line x1="369.28" y1="33.61" x2="382.73" y2="60.54" stroke="#d4b060" stroke-width="0.77" opacity="0.55"/>
<line x1="370.61" y1="33.41" x2="384.09" y2="60.27" stroke="#d4b060" stroke-width="0.77" opacity="0.54"/>
<line x1="371.93" y1="33.20" x2="385.50" y2="60.00" stroke="#d4b060" stroke-width="0.76" opacity="0.54"/>
<line x1="373.25" y1="33.00" x2="386.90" y2="59.73" stroke="#d4b060" stroke-width="0.76" opacity="0.53"/>
<line x1="374.56" y1="32.79" x2="388.30" y2="59.46" stroke="#d4b060" stroke-width="0.76" opacity="0.52"/>
<line x1="375.87" y1="32.59" x2="389.69" y2="59.20" stroke="#d4b060" stroke-width="0.75" opacity="0.52"/>
<line x1="377.17" y1="32.39" x2="391.07" y2="58.93" stroke="#d4b060" stroke-width="0.75" opacity="0.51"/>
<line x1="378.46" y1="32.19" x2="392.44" y2="58.67" stroke="#d4b060" stroke-width="0.75" opacity="0.50"/>
<line x1="379.75" y1="31.99" x2="393.81" y2="58.40" stroke="#d4b060" stroke-width="0.74" opacity="0.49"/>
<line x1="381.03" y1="31.79" x2="395.17" y2="58.14" stroke="#d4b060" stroke-width="0.74" opacity="0.49"/>
<line x1="382.31" y1="31.59" x2="396.53" y2="57.88" stroke="#d4b060" stroke-width="0.74" opacity="0.48"/>
<line x1="383.58" y1="31.40" x2="397.88" y2="57.62" stroke="#d4b060" stroke-width="0.73" opacity="0.48"/>
<line x1="384.84" y1="31.20" x2="399.22" y2="57.36" stroke="#d4b060" stroke-width="0.73" opacity="0.47"/>
<line x1="386.10" y1="31.00" x2="400.55" y2="57.11" stroke="#d4b060" stroke-width="0.73" opacity="0.46"/>
<line x1="387.35" y1="30.81" x2="401.88" y2="56.85" stroke="#d4b060" stroke-width="0.72" opacity="0.46"/>
<line x1="388.60" y1="30.62" x2="403.20" y2="56.60" stroke="#d4b060" stroke-width="0.72" opacity="0.45"/>
<line x1="389.84" y1="30.42" x2="404.52" y2="56.34" stroke="#d4b060" stroke-width="0.72" opacity="0.44"/>
<line x1="391.08" y1="30.23" x2="405.83" y2="56.09" stroke="#d4b060" stroke-width="0.71" opacity="0.44"/>
<line x1="392.31" y1="30.04" x2="407.13" y2="55.84" stroke="#d4b060" stroke-width="0.71" opacity="0.43"/>
<line x1="393.54" y1="29.85" x2="408.43" y2="55.59" stroke="#d4b060" stroke-width="0.71" opacity="0.42"/>
<line x1="394.76" y1="29.66" x2="409.72" y2="55.34" stroke="#d4b060" stroke-width="0.70" opacity="0.42"/>
<line x1="395.97" y1="29.47" x2="411.00" y2="55.09" stroke="#d4b060" stroke-width="0.70" opacity="0.41"/>
<line x1="397.18" y1="29.29" x2="412.28" y2="54.85" stroke="#d4b060" stroke-width="0.70" opacity="0.40"/>
<line x1="398.39" y1="29.10" x2="413.55" y2="54.60" stroke="#d4b060" stroke-width="0.69" opacity="0.40"/>
<line x1="399.58" y1="28.91" x2="414.81" y2="54.36" stroke="#d4b060" stroke-width="0.69" opacity="0.39"/>
<line x1="400.78" y1="28.73" x2="416.07" y2="54.11" stroke="#d4b060" stroke-width="0.69" opacity="0.39"/>
<line x1="401.96" y1="28.55" x2="417.32" y2="53.87" stroke="#d4b060" stroke-width="0.69" opacity="0.38"/>
<line x1="403.15" y1="28.36" x2="418.57" y2="53.63" stroke="#d4b060" stroke-width="0.68" opacity="0.37"/>
<line x1="404.32" y1="28.18" x2="419.81" y2="53.39" stroke="#d4b060" stroke-width="0.68" opacity="0.37"/>
<line x1="405.49" y1="28.00" x2="421.05" y2="53.15" stroke="#d4b060" stroke-width="0.68" opacity="0.36"/>
<line x1="406.66" y1="27.82" x2="422.28" y2="52.91" stroke="#d4b060" stroke-width="0.67" opacity="0.35"/>
<line x1="407.82" y1="27.64" x2="423.50" y2="52.68" stroke="#d4b060" stroke-width="0.67" opacity="0.35"/>
<line x1="408.98" y1="27.46" x2="424.71" y2="52.44" stroke="#d4b060" stroke-width="0.67" opacity="0.34"/>
<line x1="410.13" y1="27.28" x2="425.92" y2="52.21" stroke="#d4b060" stroke-width="0.66" opacity="0.34"/>
<line x1="411.27" y1="27.10" x2="427.13" y2="51.97" stroke="#d4b060" stroke-width="0.66" opacity="0.33"/>
<line x1="412.41" y1="26.93" x2="428.33" y2="51.74" stroke="#d4b060" stroke-width="0.66" opacity="0.33"/>
<line x1="413.55" y1="26.75" x2="429.52" y2="51.51" stroke="#d4b060" stroke-width="0.66" opacity="0.32"/>
<line x1="414.68" y1="26.57" x2="430.71" y2="51.28" stroke="#d4b060" stroke-width="0.65" opacity="0.31"/>
<line x1="415.80" y1="26.40" x2="431.89" y2="51.05" stroke="#d4b060" stroke-width="0.65" opacity="0.31"/>
<line x1="416.92" y1="26.23" x2="433.07" y2="50.82" stroke="#d4b060" stroke-width="0.65" opacity="0.30"/>
<line x1="418.04" y1="26.05" x2="434.24" y2="50.59" stroke="#d4b060" stroke-width="0.64" opacity="0.30"/>
<line x1="419.15" y1="25.88" x2="435.39" y2="50.35" stroke="#d4b060" stroke-width="0.64" opacity="0.29"/>
<line x1="420.25" y1="25.71" x2="436.55" y2="50.12" stroke="#d4b060" stroke-width="0.64" opacity="0.28"/>
<line x1="421.35" y1="25.54" x2="437.69" y2="49.88" stroke="#d4b060" stroke-width="0.64" opacity="0.28"/>
<line x1="422.45" y1="25.37" x2="438.84" y2="49.65" stroke="#d4b060" stroke-width="0.64" opacity="0.27"/>
<line x1="423.55" y1="25.20" x2="439.98" y2="49.41" stroke="#d4b060" stroke-width="0.64" opacity="0.27"/>
<line x1="424.65" y1="25.03" x2="441.13" y2="49.18" stroke="#d4b060" stroke-width="0.64" opacity="0.26"/>
<line x1="425.75" y1="24.86" x2="442.27" y2="48.94" stroke="#d4b060" stroke-width="0.64" opacity="0.26"/>
<line x1="426.85" y1="24.69" x2="443.42" y2="48.71" stroke="#d4b060" stroke-width="0.64" opacity="0.25"/>
<line x1="427.95" y1="24.52" x2="444.56" y2="48.47" stroke="#d4b060" stroke-width="0.64" opacity="0.24"/>
<line x1="429.05" y1="24.35" x2="445.70" y2="48.24" stroke="#d4b060" stroke-width="0.64" opacity="0.24"/>
<line x1="430.15" y1="24.17" x2="446.89" y2="48.00" stroke="#d4b060" stroke-width="0.64" opacity="0.23"/>
<line x1="431.25" y1="23.97" x2="448.34" y2="47.77" stroke="#d4b060" stroke-width="0.64" opacity="0.23"/>
<line x1="432.35" y1="23.77" x2="449.80" y2="47.53" stroke="#d4b060" stroke-width="0.64" opacity="0.22"/>
<line x1="433.45" y1="23.56" x2="451.25" y2="47.30" stroke="#d4b060" stroke-width="0.64" opacity="0.22"/>
<line x1="434.55" y1="23.36" x2="452.70" y2="47.06" stroke="#d4b060" stroke-width="0.64" opacity="0.21"/>
<line x1="435.65" y1="23.16" x2="454.15" y2="46.83" stroke="#d4b060" stroke-width="0.64" opacity="0.20"/>
<line x1="436.75" y1="22.96" x2="455.60" y2="46.59" stroke="#d4b060" stroke-width="0.64" opacity="0.20"/>
<line x1="437.85" y1="22.76" x2="457.05" y2="46.36" stroke="#d4b060" stroke-width="0.64" opacity="0.19"/>
<line x1="438.95" y1="22.55" x2="458.50" y2="46.12" stroke="#d4b060" stroke-width="0.64" opacity="0.19"/>
<line x1="440.05" y1="22.35" x2="459.95" y2="45.89" stroke="#d4b060" stroke-width="0.64" opacity="0.18"/>
<line x1="441.15" y1="22.15" x2="461.39" y2="45.65" stroke="#d4b060" stroke-width="0.64" opacity="0.18"/>
<line x1="442.25" y1="21.95" x2="462.84" y2="45.42" stroke="#d4b060" stroke-width="0.64" opacity="0.17"/>
<line x1="443.35" y1="21.74" x2="464.28" y2="45.18" stroke="#d4b060" stroke-width="0.64" opacity="0.16"/>
<line x1="444.45" y1="21.54" x2="465.72" y2="44.95" stroke="#d4b060" stroke-width="0.64" opacity="0.16"/>
<line x1="445.55" y1="21.34" x2="467.16" y2="44.71" stroke="#d4b060" stroke-width="0.64" opacity="0.15"/>
<line x1="446.65" y1="21.14" x2="468.60" y2="44.48" stroke="#d4b060" stroke-width="0.64" opacity="0.15"/>
<line x1="447.75" y1="20.94" x2="470.04" y2="44.24" stroke="#d4b060" stroke-width="0.64" opacity="0.14"/>
<line x1="448.85" y1="20.73" x2="471.48" y2="44.01" stroke="#d4b060" stroke-width="0.64" opacity="0.14"/>
<line x1="449.95" y1="20.53" x2="472.92" y2="43.77" stroke="#d4b060" stroke-width="0.64" opacity="0.13"/>
<line x1="451.05" y1="20.33" x2="474.36" y2="43.54" stroke="#d4b060" stroke-width="0.64" opacity="0.12"/>
<line x1="452.15" y1="20.13" x2="475.79" y2="43.30" stroke="#d4b060" stroke-width="0.64" opacity="0.12"/>
<line x1="453.25" y1="19.92" x2="477.23" y2="43.07" stroke="#d4b060" stroke-width="0.64" opacity="0.11"/>
<line x1="454.35" y1="19.72" x2="478.66" y2="42.83" stroke="#d4b060" stroke-width="0.64" opacity="0.11"/>
<line x1="455.45" y1="19.52" x2="480.09" y2="42.60" stroke="#d4b060" stroke-width="0.64" opacity="0.10"/>
<line x1="456.55" y1="19.32" x2="481.52" y2="42.36" stroke="#d4b060" stroke-width="0.64" opacity="0.10"/>
<line x1="457.65" y1="19.11" x2="482.95" y2="42.13" stroke="#d4b060" stroke-width="0.64" opacity="0.10"/>
<line x1="458.75" y1="18.91" x2="484.38" y2="41.89" stroke="#d4b060" stroke-width="0.64" opacity="0.10"/>
<line x1="459.85" y1="18.71" x2="485.81" y2="41.66" stroke="#d4b060" stroke-width="0.64" opacity="0.10"/>
<line x1="460.95" y1="18.51" x2="487.24" y2="41.42" stroke="#d4b060" stroke-width="0.64" opacity="0.10"/>
<line x1="462.05" y1="18.31" x2="488.66" y2="41.19" stroke="#d4b060" stroke-width="0.64" opacity="0.10"/>
<line x1="463.15" y1="18.10" x2="490.09" y2="40.95" stroke="#d4b060" stroke-width="0.64" opacity="0.10"/>
<line x1="464.25" y1="17.90" x2="491.51" y2="40.72" stroke="#d4b060" stroke-width="0.64" opacity="0.10"/>
<line x1="465.35" y1="17.70" x2="492.93" y2="40.48" stroke="#d4b060" stroke-width="0.64" opacity="0.10"/>
<line x1="466.45" y1="17.50" x2="494.36" y2="40.25" stroke="#d4b060" stroke-width="0.64" opacity="0.10"/>
<line x1="467.55" y1="17.29" x2="495.78" y2="40.01" stroke="#d4b060" stroke-width="0.64" opacity="0.10"/>
<line x1="468.65" y1="17.09" x2="497.20" y2="39.78" stroke="#d4b060" stroke-width="0.64" opacity="0.10"/>
<line x1="469.75" y1="16.89" x2="498.62" y2="39.54" stroke="#d4b060" stroke-width="0.64" opacity="0.10"/>
</g>
<g clip-path="url(#cpBand)"><polygon points="117.5,112 190,95.6 290,76.6 330,68.7 430,47.5 430,44.5 330,65.2 290,73 190,92 116.8,108.5" fill="#3a280c" opacity="0.28"/><polygon points="300,75 330,69 430,48.6 539.5,25.2 539.5,22.8 430,45.4 330,65.6 300,72.3" fill="#5e4216" opacity="0.8"/></g>
<polygon points="202.3,69 254.4,54.7 264.6,85.4 211.5,101.8" fill="none" stroke="#2a2e8e" stroke-width="1.15" stroke-dasharray="3.6,2.6"/>
<polygon points="299.8,43.9 361.5,13.9 383,58.2 321.7,87.9" fill="none" stroke="#2a2e8e" stroke-width="1.15" stroke-dasharray="3.6,2.6"/>
<line x1="211.5" y1="101.8" x2="324.2" y2="185.8" stroke="#a2a6b0" stroke-width="0.8" stroke-dasharray="7.5,5.5" fill="none"/>
<line x1="264.6" y1="85.4" x2="324.2" y2="110.2" stroke="#a2a6b0" stroke-width="0.8" stroke-dasharray="7.5,5.5" fill="none"/>
<line x1="321.7" y1="87.9" x2="457.7" y2="110.2" stroke="#a2a6b0" stroke-width="0.8" stroke-dasharray="7.5,5.5" fill="none"/>
<line x1="383" y1="58.2" x2="569.7" y2="110.2" stroke="#a2a6b0" stroke-width="0.8" stroke-dasharray="7.5,5.5" fill="none"/>
<clipPath id="cpI1"><rect x="324.2" y="110.2" width="110.40000000000003" height="75.60000000000001"/></clipPath>
<linearGradient id="gI1b" x1="0" y1="0" x2="0" y2="1"><stop offset="0" stop-color="#c79e48"/><stop offset="0.45" stop-color="#d4ae5a"/><stop offset="1" stop-color="#e2c272"/></linearGradient>
<linearGradient id="gI1s" x1="0" y1="1" x2="1" y2="0"><stop offset="0" stop-color="#000" stop-opacity="0"/><stop offset="0.6" stop-color="#000" stop-opacity="0.05"/><stop offset="1" stop-color="#000" stop-opacity="0.35"/></linearGradient>
<filter id="bl09" x="-5%" y="-5%" width="110%" height="110%"><feGaussianBlur stdDeviation="0.6"/></filter>
<g clip-path="url(#cpI1)">
<rect x="324.2" y="110.2" width="110.40000000000003" height="75.60000000000001" fill="#2e1f0b"/>
<g filter="url(#bl09)">
<polygon points="331.9,109.2 335.6,109.2 321.9,151.1 318.2,151.1" fill="#d8b872"/>
<polygon points="321.9,151.1 321.9,163.5 318.2,163.5 318.2,151.1" fill="#9a7c40"/>
<polygon points="339.7,109.2 343.5,109.2 329.4,152.2 325.6,152.2" fill="#d8b872"/>
<polygon points="329.4,152.2 329.4,164.7 325.6,164.7 325.6,152.2" fill="#9a7c40"/>
<polygon points="347.5,109.2 351.3,109.2 336.8,153.3 333.1,153.3" fill="#d8b872"/>
<polygon points="336.8,153.3 336.8,166.0 333.1,166.0 333.1,153.3" fill="#9a7c40"/>
<polygon points="355.4,109.2 359.1,109.2 344.3,154.4 340.5,154.4" fill="#d8b872"/>
<polygon points="344.3,154.4 344.3,167.2 340.5,167.2 340.5,154.4" fill="#9a7c40"/>
<polygon points="363.2,109.2 366.9,109.2 351.7,155.6 348.0,155.6" fill="#d8b872"/>
<polygon points="351.7,155.6 351.7,168.4 348.0,168.4 348.0,155.6" fill="#9a7c40"/>
<polygon points="371.0,109.2 374.7,109.2 359.2,156.7 355.4,156.7" fill="#d8b872"/>
<polygon points="359.2,156.7 359.2,169.6 355.4,169.6 355.4,156.7" fill="#9a7c40"/>
<polygon points="378.8,109.2 382.6,109.2 366.6,157.8 362.9,157.8" fill="#d8b872"/>
<polygon points="366.6,157.8 366.6,170.8 362.9,170.8 362.9,157.8" fill="#9a7c40"/>
<polygon points="386.7,109.2 390.4,109.2 374.1,158.9 370.3,158.9" fill="#d8b872"/>
<polygon points="374.1,158.9 374.1,172.0 370.3,172.0 370.3,158.9" fill="#9a7c40"/>
<polygon points="394.5,109.2 398.2,109.2 381.5,160.0 377.8,160.0" fill="#d8b872"/>
<polygon points="381.5,160.0 381.5,173.2 377.8,173.2 377.8,160.0" fill="#9a7c40"/>
<polygon points="402.3,109.2 406.0,109.2 389.0,161.1 385.2,161.1" fill="#d8b872"/>
<polygon points="389.0,161.1 389.0,174.5 385.2,174.5 385.2,161.1" fill="#9a7c40"/>
<polygon points="410.1,109.2 413.9,109.2 396.4,162.2 392.7,162.2" fill="#d8b872"/>
<polygon points="396.4,162.2 396.4,175.7 392.7,175.7 392.7,162.2" fill="#9a7c40"/>
<polygon points="418.0,109.2 421.7,109.2 403.9,163.4 400.1,163.4" fill="#d8b872"/>
<polygon points="403.9,163.4 403.9,176.9 400.1,176.9 400.1,163.4" fill="#9a7c40"/>
<polygon points="425.8,109.2 429.5,109.2 411.3,164.5 407.6,164.5" fill="#d8b872"/>
<polygon points="411.3,164.5 411.3,178.1 407.6,178.1 407.6,164.5" fill="#9a7c40"/>
<polygon points="433.6,109.2 437.3,109.2 418.8,165.6 415.0,165.6" fill="#d8b872"/>
<polygon points="418.8,165.6 418.8,179.3 415.0,179.3 415.0,165.6" fill="#9a7c40"/>
<polygon points="441.4,109.2 445.1,109.2 426.2,166.7 422.5,166.7" fill="#d8b872"/>
<polygon points="426.2,166.7 426.2,180.5 422.5,180.5 422.5,166.7" fill="#9a7c40"/>
<polygon points="449.2,109.2 453.0,109.2 433.7,167.8 429.9,167.8" fill="#d8b872"/>
<polygon points="433.7,167.8 433.7,181.7 429.9,181.7 429.9,167.8" fill="#9a7c40"/>
<polygon points="457.1,109.2 460.8,109.2 441.1,168.9 437.4,168.9" fill="#d8b872"/>
<polygon points="441.1,168.9 441.1,183.0 437.4,183.0 437.4,168.9" fill="#9a7c40"/>
<polygon points="464.9,109.2 468.6,109.2 448.6,170.0 444.8,170.0" fill="#d8b872"/>
<polygon points="448.6,170.0 448.6,184.2 444.8,184.2 444.8,170.0" fill="#9a7c40"/>
<polygon points="472.7,109.2 476.4,109.2 456.0,171.1 452.3,171.1" fill="#d8b872"/>
<polygon points="456.0,171.1 456.0,185.4 452.3,185.4 452.3,171.1" fill="#9a7c40"/>
<polygon points="480.5,109.2 484.3,109.2 463.5,172.3 459.7,172.3" fill="#d8b872"/>
<polygon points="463.5,172.3 463.5,186.6 459.7,186.6 459.7,172.3" fill="#9a7c40"/>
<polygon points="488.4,109.2 492.1,109.2 470.9,173.4 467.2,173.4" fill="#d8b872"/>
<polygon points="470.9,173.4 470.9,187.8 467.2,187.8 467.2,173.4" fill="#9a7c40"/>
</g>
<rect x="324.2" y="110.2" width="110.40000000000003" height="75.60000000000001" fill="url(#gI1s)"/>
<g filter="url(#bl05)"><polygon points="323.2,163.5 435.6,181.5 435.6,186.8 323.2,186.8" fill="url(#gI1b)"/>
<polygon points="323.2,163.5 435.6,181.5 435.6,184.5 323.2,166.5" fill="#ecca78" opacity="0.55"/></g>
<g filter="url(#bl1)">
<ellipse cx="323.8" cy="166.4" rx="1.9" ry="3.2" fill="#fbe49a" opacity="0.9"/>
<ellipse cx="331.2" cy="167.6" rx="1.9" ry="3.2" fill="#fbe49a" opacity="0.9"/>
<ellipse cx="338.7" cy="168.8" rx="1.9" ry="3.2" fill="#fbe49a" opacity="0.9"/>
<ellipse cx="346.1" cy="170.0" rx="1.9" ry="3.2" fill="#fbe49a" opacity="0.9"/>
<ellipse cx="353.6" cy="171.2" rx="1.9" ry="3.2" fill="#fbe49a" opacity="0.9"/>
<ellipse cx="361.0" cy="172.4" rx="1.9" ry="3.2" fill="#fbe49a" opacity="0.9"/>
<ellipse cx="368.5" cy="173.7" rx="1.9" ry="3.2" fill="#fbe49a" opacity="0.9"/>
<ellipse cx="375.9" cy="174.9" rx="1.9" ry="3.2" fill="#fbe49a" opacity="0.9"/>
<ellipse cx="383.4" cy="176.1" rx="1.9" ry="3.2" fill="#fbe49a" opacity="0.9"/>
<ellipse cx="390.8" cy="177.3" rx="1.9" ry="3.2" fill="#fbe49a" opacity="0.9"/>
<ellipse cx="398.3" cy="178.5" rx="1.9" ry="3.2" fill="#fbe49a" opacity="0.9"/>
<ellipse cx="405.7" cy="179.7" rx="1.9" ry="3.2" fill="#fbe49a" opacity="0.9"/>
<ellipse cx="413.2" cy="180.9" rx="1.9" ry="3.2" fill="#fbe49a" opacity="0.9"/>
<ellipse cx="420.6" cy="182.2" rx="1.9" ry="3.2" fill="#fbe49a" opacity="0.9"/>
<ellipse cx="428.1" cy="183.4" rx="1.9" ry="3.2" fill="#fbe49a" opacity="0.9"/>
<ellipse cx="435.5" cy="184.6" rx="1.9" ry="3.2" fill="#fbe49a" opacity="0.9"/>
<ellipse cx="443.0" cy="185.8" rx="1.9" ry="3.2" fill="#fbe49a" opacity="0.9"/>
</g>
</g>
<clipPath id="cpI2"><rect x="457.7" y="110.2" width="112.00000000000006" height="75.60000000000001"/></clipPath>
<linearGradient id="gI2a" x1="0" y1="0" x2="1" y2="0.6"><stop offset="0" stop-color="#6a5220"/><stop offset="0.45" stop-color="#7c642a"/><stop offset="0.8" stop-color="#84692e"/><stop offset="1" stop-color="#6a5220"/></linearGradient>
<linearGradient id="gI2b" x1="0" y1="0" x2="0" y2="1"><stop offset="0" stop-color="#7c632a"/><stop offset="0.35" stop-color="#6a5222"/><stop offset="1" stop-color="#4e3a14"/></linearGradient>
<g clip-path="url(#cpI2)">
<rect x="457.7" y="110.2" width="112.00000000000006" height="24.799999999999997" fill="url(#gI2a)"/>
<rect x="457.7" y="131.5" width="112.00000000000006" height="3" fill="#4a3812" opacity="0.45"/>
<rect x="457.7" y="134.3" width="112.00000000000006" height="1.0" fill="#a88c4c"/>
<rect x="457.7" y="135.3" width="112.00000000000006" height="28.7" fill="#2e220e"/>
<g filter="url(#bl05)">
<line x1="458.7" y1="136" x2="458.7" y2="163.5" stroke="#6c572c" stroke-width="0.7"/>
<line x1="461.3" y1="136" x2="461.3" y2="163.5" stroke="#6c572c" stroke-width="0.7"/>
<line x1="463.9" y1="136" x2="463.9" y2="163.5" stroke="#6c572c" stroke-width="0.7"/>
<line x1="466.5" y1="136" x2="466.5" y2="163.5" stroke="#6c572c" stroke-width="0.7"/>
<line x1="469.1" y1="136" x2="469.1" y2="163.5" stroke="#6c572c" stroke-width="0.7"/>
<line x1="471.7" y1="136" x2="471.7" y2="163.5" stroke="#6c572c" stroke-width="0.7"/>
<line x1="474.3" y1="136" x2="474.3" y2="163.5" stroke="#6c572c" stroke-width="0.7"/>
<line x1="476.9" y1="136" x2="476.9" y2="163.5" stroke="#6c572c" stroke-width="0.7"/>
<line x1="479.5" y1="136" x2="479.5" y2="163.5" stroke="#6c572c" stroke-width="0.7"/>
<line x1="482.1" y1="136" x2="482.1" y2="163.5" stroke="#6c572c" stroke-width="0.7"/>
<line x1="484.7" y1="136" x2="484.7" y2="163.5" stroke="#6c572c" stroke-width="0.7"/>
<line x1="487.3" y1="136" x2="487.3" y2="163.5" stroke="#6c572c" stroke-width="0.7"/>
<line x1="489.9" y1="136" x2="489.9" y2="163.5" stroke="#6c572c" stroke-width="0.7"/>
<line x1="492.5" y1="136" x2="492.5" y2="163.5" stroke="#6c572c" stroke-width="0.7"/>
<line x1="495.1" y1="136" x2="495.1" y2="163.5" stroke="#6c572c" stroke-width="0.7"/>
<line x1="497.7" y1="136" x2="497.7" y2="163.5" stroke="#6c572c" stroke-width="0.7"/>
<line x1="500.3" y1="136" x2="500.3" y2="163.5" stroke="#6c572c" stroke-width="0.7"/>
<line x1="502.9" y1="136" x2="502.9" y2="163.5" stroke="#6c572c" stroke-width="0.7"/>
<line x1="505.5" y1="136" x2="505.5" y2="163.5" stroke="#6c572c" stroke-width="0.7"/>
<line x1="508.1" y1="136" x2="508.1" y2="163.5" stroke="#6c572c" stroke-width="0.7"/>
<line x1="510.7" y1="136" x2="510.7" y2="163.5" stroke="#6c572c" stroke-width="0.7"/>
<line x1="513.3" y1="136" x2="513.3" y2="163.5" stroke="#6c572c" stroke-width="0.7"/>
<line x1="515.9" y1="136" x2="515.9" y2="163.5" stroke="#6c572c" stroke-width="0.7"/>
<line x1="518.5" y1="136" x2="518.5" y2="163.5" stroke="#6c572c" stroke-width="0.7"/>
<line x1="521.1" y1="136" x2="521.1" y2="163.5" stroke="#6c572c" stroke-width="0.7"/>
<line x1="523.7" y1="136" x2="523.7" y2="163.5" stroke="#6c572c" stroke-width="0.7"/>
<line x1="526.3" y1="136" x2="526.3" y2="163.5" stroke="#6c572c" stroke-width="0.7"/>
<line x1="528.9" y1="136" x2="528.9" y2="163.5" stroke="#6c572c" stroke-width="0.7"/>
<line x1="531.5" y1="136" x2="531.5" y2="163.5" stroke="#6c572c" stroke-width="0.7"/>
<line x1="534.1" y1="136" x2="534.1" y2="163.5" stroke="#6c572c" stroke-width="0.7"/>
<line x1="536.7" y1="136" x2="536.7" y2="163.5" stroke="#6c572c" stroke-width="0.7"/>
<line x1="539.3" y1="136" x2="539.3" y2="163.5" stroke="#6c572c" stroke-width="0.7"/>
<line x1="541.9" y1="136" x2="541.9" y2="163.5" stroke="#6c572c" stroke-width="0.7"/>
<line x1="544.5" y1="136" x2="544.5" y2="163.5" stroke="#6c572c" stroke-width="0.7"/>
<line x1="547.1" y1="136" x2="547.1" y2="163.5" stroke="#6c572c" stroke-width="0.7"/>
<line x1="549.7" y1="136" x2="549.7" y2="163.5" stroke="#6c572c" stroke-width="0.7"/>
<line x1="552.3" y1="136" x2="552.3" y2="163.5" stroke="#6c572c" stroke-width="0.7"/>
<line x1="554.9" y1="136" x2="554.9" y2="163.5" stroke="#6c572c" stroke-width="0.7"/>
<line x1="557.5" y1="136" x2="557.5" y2="163.5" stroke="#6c572c" stroke-width="0.7"/>
<line x1="560.1" y1="136" x2="560.1" y2="163.5" stroke="#6c572c" stroke-width="0.7"/>
<line x1="562.7" y1="136" x2="562.7" y2="163.5" stroke="#6c572c" stroke-width="0.7"/>
<line x1="565.3" y1="136" x2="565.3" y2="163.5" stroke="#6c572c" stroke-width="0.7"/>
<line x1="567.9" y1="136" x2="567.9" y2="163.5" stroke="#6c572c" stroke-width="0.7"/>
<rect x="477.7" y="137" width="7.199999999999989" height="26" fill="#f4eedc"/>
<line x1="482.1" y1="137" x2="482.1" y2="163" stroke="#a89468" stroke-width="0.7"/>
<line x1="478.9" y1="137" x2="478.9" y2="163" stroke="#d8caa0" stroke-width="0.6"/>
<rect x="498.5" y="137" width="7.800000000000011" height="26" fill="#f4eedc"/>
<line x1="503.2" y1="137" x2="503.2" y2="163" stroke="#a89468" stroke-width="0.7"/>
<line x1="499.7" y1="137" x2="499.7" y2="163" stroke="#d8caa0" stroke-width="0.6"/>
<rect x="519" y="137" width="7.2999999999999545" height="26" fill="#f4eedc"/>
<line x1="523.4" y1="137" x2="523.4" y2="163" stroke="#a89468" stroke-width="0.7"/>
<line x1="520.2" y1="137" x2="520.2" y2="163" stroke="#d8caa0" stroke-width="0.6"/>
<rect x="539.4" y="137" width="6.800000000000068" height="26" fill="#f4eedc"/>
<line x1="543.6" y1="137" x2="543.6" y2="163" stroke="#a89468" stroke-width="0.7"/>
<line x1="540.6" y1="137" x2="540.6" y2="163" stroke="#d8caa0" stroke-width="0.6"/>
</g>
<rect x="457.7" y="163.6" width="112.00000000000006" height="22.200000000000017" fill="url(#gI2b)"/>
<rect x="457.7" y="163.4" width="112.00000000000006" height="1.0" fill="#85703a" opacity="0.8"/>
</g>
<rect x="43.5" y="242.3" width="282.5" height="192.0" fill="none" stroke="#808080" stroke-width="0.9"/>
<text x="39.7" y="449.2" font-size="13" text-anchor="middle" fill="#1a1a1a" >−30</text>
<line x1="90.6" y1="434.3" x2="90.6" y2="431.3" stroke="#808080" stroke-width="0.9"/>
<line x1="90.6" y1="242.3" x2="90.6" y2="245.3" stroke="#808080" stroke-width="0.9"/>
<text x="86.8" y="449.2" font-size="13" text-anchor="middle" fill="#1a1a1a" >−20</text>
<line x1="137.7" y1="434.3" x2="137.7" y2="431.3" stroke="#808080" stroke-width="0.9"/>
<line x1="137.7" y1="242.3" x2="137.7" y2="245.3" stroke="#808080" stroke-width="0.9"/>
<text x="133.9" y="449.2" font-size="13" text-anchor="middle" fill="#1a1a1a" >−10</text>
<line x1="184.8" y1="434.3" x2="184.8" y2="431.3" stroke="#808080" stroke-width="0.9"/>
<line x1="184.8" y1="242.3" x2="184.8" y2="245.3" stroke="#808080" stroke-width="0.9"/>
<text x="184.8" y="449.2" font-size="13" text-anchor="middle" fill="#1a1a1a" >0</text>
<line x1="231.8" y1="434.3" x2="231.8" y2="431.3" stroke="#808080" stroke-width="0.9"/>
<line x1="231.8" y1="242.3" x2="231.8" y2="245.3" stroke="#808080" stroke-width="0.9"/>
<text x="231.8" y="449.2" font-size="13" text-anchor="middle" fill="#1a1a1a" >10</text>
<line x1="278.9" y1="434.3" x2="278.9" y2="431.3" stroke="#808080" stroke-width="0.9"/>
<line x1="278.9" y1="242.3" x2="278.9" y2="245.3" stroke="#808080" stroke-width="0.9"/>
<text x="278.9" y="449.2" font-size="13" text-anchor="middle" fill="#1a1a1a" >20</text>
<text x="326.0" y="449.2" font-size="13" text-anchor="middle" fill="#1a1a1a" >30</text>
<text x="40.5" y="248.0" font-size="13" text-anchor="end" fill="#1a1a1a" >30</text>
<line x1="43.5" y1="274.3" x2="46.5" y2="274.3" stroke="#808080" stroke-width="0.9"/>
<line x1="326.0" y1="274.3" x2="323.0" y2="274.3" stroke="#808080" stroke-width="0.9"/>
<text x="40.5" y="280.0" font-size="13" text-anchor="end" fill="#1a1a1a" >20</text>
<line x1="43.5" y1="306.3" x2="46.5" y2="306.3" stroke="#808080" stroke-width="0.9"/>
<line x1="326.0" y1="306.3" x2="323.0" y2="306.3" stroke="#808080" stroke-width="0.9"/>
<text x="40.5" y="312.0" font-size="13" text-anchor="end" fill="#1a1a1a" >10</text>
<line x1="43.5" y1="338.3" x2="46.5" y2="338.3" stroke="#808080" stroke-width="0.9"/>
<line x1="326.0" y1="338.3" x2="323.0" y2="338.3" stroke="#808080" stroke-width="0.9"/>
<text x="40.5" y="344.0" font-size="13" text-anchor="end" fill="#1a1a1a" >0</text>
<line x1="43.5" y1="370.3" x2="46.5" y2="370.3" stroke="#808080" stroke-width="0.9"/>
<line x1="326.0" y1="370.3" x2="323.0" y2="370.3" stroke="#808080" stroke-width="0.9"/>
<text x="40.5" y="376.0" font-size="13" text-anchor="end" fill="#1a1a1a" >−10</text>
<line x1="43.5" y1="402.3" x2="46.5" y2="402.3" stroke="#808080" stroke-width="0.9"/>
<line x1="326.0" y1="402.3" x2="323.0" y2="402.3" stroke="#808080" stroke-width="0.9"/>
<text x="40.5" y="408.0" font-size="13" text-anchor="end" fill="#1a1a1a" >−20</text>
<text x="40.5" y="440.0" font-size="13" text-anchor="end" fill="#1a1a1a" >−30</text>
<g stroke="#4a4ae6" stroke-width="0.8" fill="none">
<path d="M62.3,364.0V374.0M60.8,364.0h3M60.8,374.0h3"/>
<rect x="60.55" y="367.25" width="3.5" height="3.5" fill="#fff" fill-opacity="0.6"/>
<path d="M71.7,376.6V386.6M70.2,376.6h3M70.2,386.6h3"/>
<rect x="69.95" y="379.85" width="3.5" height="3.5" fill="#fff" fill-opacity="0.6"/>
<path d="M81.2,386.4V396.4M79.7,386.4h3M79.7,396.4h3"/>
<rect x="79.45" y="389.65" width="3.5" height="3.5" fill="#fff" fill-opacity="0.6"/>
<path d="M90.6,396.7V406.7M89.1,396.7h3M89.1,406.7h3"/>
<rect x="88.85" y="399.95" width="3.5" height="3.5" fill="#fff" fill-opacity="0.6"/>
<path d="M100.0,411.7V421.7M98.5,411.7h3M98.5,421.7h3"/>
<rect x="98.25" y="414.95" width="3.5" height="3.5" fill="#fff" fill-opacity="0.6"/>
<path d="M109.4,394.1V404.1M107.9,394.1h3M107.9,404.1h3"/>
<rect x="107.65" y="397.35" width="3.5" height="3.5" fill="#fff" fill-opacity="0.6"/>
<path d="M118.8,382.5V392.5M117.3,382.5h3M117.3,392.5h3"/>
<rect x="117.05" y="385.75" width="3.5" height="3.5" fill="#fff" fill-opacity="0.6"/>
<path d="M128.3,372.4V382.4M126.8,372.4h3M126.8,382.4h3"/>
<rect x="126.55" y="375.65" width="3.5" height="3.5" fill="#fff" fill-opacity="0.6"/>
<path d="M137.7,366.3V376.3M136.2,366.3h3M136.2,376.3h3"/>
<rect x="135.95" y="369.55" width="3.5" height="3.5" fill="#fff" fill-opacity="0.6"/>
<path d="M147.1,359.3V369.3M145.6,359.3h3M145.6,369.3h3"/>
<rect x="145.35" y="362.55" width="3.5" height="3.5" fill="#fff" fill-opacity="0.6"/>
<path d="M156.5,352.1V362.1M155.0,352.1h3M155.0,362.1h3"/>
<rect x="154.75" y="355.35" width="3.5" height="3.5" fill="#fff" fill-opacity="0.6"/>
<path d="M166.0,346.7V356.7M164.5,346.7h3M164.5,356.7h3"/>
<rect x="164.25" y="349.95" width="3.5" height="3.5" fill="#fff" fill-opacity="0.6"/>
<path d="M175.4,341.1V351.1M173.9,341.1h3M173.9,351.1h3"/>
<rect x="173.65" y="344.35" width="3.5" height="3.5" fill="#fff" fill-opacity="0.6"/>
<path d="M184.8,333.4V343.4M183.3,333.4h3M183.3,343.4h3"/>
<rect x="183.05" y="336.65" width="3.5" height="3.5" fill="#fff" fill-opacity="0.6"/>
<path d="M194.2,326.4V336.4M192.7,326.4h3M192.7,336.4h3"/>
<rect x="192.45" y="329.65" width="3.5" height="3.5" fill="#fff" fill-opacity="0.6"/>
<path d="M203.6,320.3V330.3M202.1,320.3h3M202.1,330.3h3"/>
<rect x="201.85" y="323.55" width="3.5" height="3.5" fill="#fff" fill-opacity="0.6"/>
<path d="M213.0,314.9V324.9M211.5,314.9h3M211.5,324.9h3"/>
<rect x="211.25" y="318.15" width="3.5" height="3.5" fill="#fff" fill-opacity="0.6"/>
<path d="M222.5,307.9V317.9M221.0,307.9h3M221.0,317.9h3"/>
<rect x="220.75" y="311.15" width="3.5" height="3.5" fill="#fff" fill-opacity="0.6"/>
<path d="M231.9,300.9V310.9M230.4,300.9h3M230.4,310.9h3"/>
<rect x="230.15" y="304.15" width="3.5" height="3.5" fill="#fff" fill-opacity="0.6"/>
<path d="M241.3,294.8V304.8M239.8,294.8h3M239.8,304.8h3"/>
<rect x="239.55" y="298.05" width="3.5" height="3.5" fill="#fff" fill-opacity="0.6"/>
<path d="M250.7,284.3V294.3M249.2,284.3h3M249.2,294.3h3"/>
<rect x="248.95" y="287.55" width="3.5" height="3.5" fill="#fff" fill-opacity="0.6"/>
<path d="M260.1,272.6V282.6M258.6,272.6h3M258.6,282.6h3"/>
<rect x="258.35" y="275.85" width="3.5" height="3.5" fill="#fff" fill-opacity="0.6"/>
<path d="M269.5,255.6V265.6M268.0,255.6h3M268.0,265.6h3"/>
<rect x="267.75" y="258.85" width="3.5" height="3.5" fill="#fff" fill-opacity="0.6"/>
<path d="M279.0,270.3V280.3M277.5,270.3h3M277.5,280.3h3"/>
<rect x="277.25" y="273.55" width="3.5" height="3.5" fill="#fff" fill-opacity="0.6"/>
<path d="M288.4,280.5V290.5M286.9,280.5h3M286.9,290.5h3"/>
<rect x="286.65" y="283.75" width="3.5" height="3.5" fill="#fff" fill-opacity="0.6"/>
<path d="M297.8,290.4V300.4M296.3,290.4h3M296.3,300.4h3"/>
<rect x="296.05" y="293.65" width="3.5" height="3.5" fill="#fff" fill-opacity="0.6"/>
<path d="M307.2,302.7V312.7M305.7,302.7h3M305.7,312.7h3"/>
<rect x="305.45" y="305.95" width="3.5" height="3.5" fill="#fff" fill-opacity="0.6"/>
</g>
<text x="128.4" y="472.7" font-size="16.2" fill="#1a1a1a" textLength="43.6" lengthAdjust="spacingAndGlyphs">Angle</text>
<text x="181" y="472.7" font-size="16.2" fill="#1a1a1a" font-style="italic" textLength="12.5" lengthAdjust="spacingAndGlyphs">ϑ</text>
<text x="198.6" y="472.7" font-size="16.2" fill="#1a1a1a" textLength="40.6" lengthAdjust="spacingAndGlyphs">(deg)</text>
<text transform="translate(14.8,422) rotate(-90)" font-size="16.6" fill="#1a1a1a" textLength="166" lengthAdjust="spacingAndGlyphs">Exciation Ratio <tspan font-style="italic">τ</tspan> (dB)</text>
<clipPath id="cpIB"><rect x="199.2" y="340.2" width="120.30000000000001" height="84.80000000000001"/></clipPath>
<linearGradient id="gIBbg" x1="0" y1="0" x2="0" y2="1"><stop offset="0" stop-color="#c8c8ca"/><stop offset="0.35" stop-color="#b4b4b6"/><stop offset="0.5" stop-color="#88888b"/><stop offset="1" stop-color="#9a9a9e"/></linearGradient>
<filter id="bl08" x="-5%" y="-5%" width="110%" height="110%"><feGaussianBlur stdDeviation="0.45"/></filter>
<g clip-path="url(#cpIB)"><g filter="url(#bl08)">
<rect x="197.2" y="338.2" width="124.30000000000001" height="88.80000000000001" fill="url(#gIBbg)"/>
<polygon points="278.6,338.9 321.3,338.9 321.3,427.3 278.6,427.3" fill="#c2c2c6"/>
<polygon points="295.1,338.9 321.3,338.9 321.3,349.6 296.0,350.6" fill="#e4e4e6"/>
<polygon points="296.0,350.0 321.3,348.8 321.3,353.9 299.0,355.0" fill="#55555c"/>
<polygon points="299.9,355.0 321.3,353.9 321.3,365.1 306.7,365.1" fill="#d0d0d4"/>
<polygon points="306.7,365.1 321.3,365.1 321.3,396.2 317.4,400.1 311.6,374.9" fill="#8c8c92"/>
<polygon points="278.6,338.9 288.3,338.9 286.3,349.6 283.4,376.8 278.6,374.9" fill="#a8a8ae"/>
<linearGradient id="gIBt" x1="0" y1="0" x2="1" y2="0"><stop offset="0" stop-color="#cacace"/><stop offset="0.45" stop-color="#aaa8aa"/><stop offset="1" stop-color="#807a78"/></linearGradient>
<polygon points="283.4,409.8 321.3,398.2 321.3,427.3 276.6,427.3" fill="url(#gIBt)"/>
<polygon points="227.1,421.5 241.6,412.8 284.4,412.8 284.4,427.3 224.1,427.3" fill="#d2d2d4"/>
<polygon points="240.1,338.9 260.1,338.9 259.1,343.4 253.3,341.8 241.6,344.7" fill="#5a5a5e"/>
<polygon points="239.3,344.2 253.3,340.7 272.7,340.3 278.2,348.0 278.9,375.8 242.6,376.4 234.6,361.7" fill="#ececed"/>
<polygon points="253.3,340.7 272.7,340.3 278.2,348.0 278.9,375.8 265.0,375.8 262.0,358.3 259.1,345.7" fill="#f7f7f7"/>
<polygon points="239.3,344.2 245.9,343.0 253.3,360.3 253.3,375.8 242.6,376.4 234.6,361.7" fill="#dcdcde"/>
<polygon points="196.9,385.0 222.2,359.3 234.3,361.3 242.8,376.0 234.8,381.1 235.0,409.8 227.1,421.9 196.9,427.3" fill="#09090b"/>
<polygon points="234.8,380.3 251.4,378.0 253.3,359.7 262.0,358.5 263.4,376.0 272.7,379.9 283.6,391.6 283.6,413.7 276.6,421.9 238.9,421.9 235.0,410.2" fill="#16306f"/>
<polygon points="234.8,380.3 251.4,378.0 255.6,400.1 255.6,421.9 238.9,421.9 235.0,410.2" fill="#1b3a86"/>
<polygon points="253.3,359.7 262.0,358.5 263.4,376.0 267.3,400.1 255.6,400.1 251.4,378.0" fill="#10245a"/>
<polygon points="263.4,376.0 272.7,379.9 283.6,391.6 283.6,402.1 267.3,400.1" fill="#1a3478"/>
<polygon points="257.6,401.7 261.1,400.5 282.8,400.9 284.4,421.9 257.6,421.9" fill="#0a0a10"/>
<line x1="260.7" y1="360.3" x2="270.4" y2="400.1" stroke="#b07a4c" stroke-width="1.4"/>
<polygon points="287.5,348.0 292.6,345.7 316.6,377.2 319.8,400.1 294.5,413.0 283.6,377.2" fill="#0d1433"/>
<polygon points="287.5,348.0 291.0,346.9 292.2,410.8 283.6,377.2" fill="#07091a"/>
<ellipse cx="292.7" cy="381.9" rx="2.6" ry="1.8" fill="#b4b4ba"/>
<line x1="249.4" y1="345.7" x2="256.8" y2="362.2" stroke="#666" stroke-width="0.9"/>
<circle cx="300.7" cy="419.7" r="0.45" fill="#333"/>
<circle cx="316.8" cy="418.7" r="0.45" fill="#333"/>
<circle cx="302.6" cy="420.0" r="0.45" fill="#333"/>
<circle cx="291.6" cy="419.2" r="0.45" fill="#333"/>
<circle cx="306.8" cy="422.2" r="0.45" fill="#333"/>
<circle cx="288.6" cy="417.0" r="0.45" fill="#333"/>
<circle cx="288.4" cy="422.4" r="0.45" fill="#333"/>
<circle cx="308.9" cy="414.2" r="0.45" fill="#333"/>
<circle cx="318.8" cy="424.0" r="0.45" fill="#333"/>
<circle cx="307.6" cy="420.3" r="0.45" fill="#333"/>
<circle cx="290.7" cy="413.9" r="0.45" fill="#333"/>
<circle cx="303.3" cy="414.4" r="0.45" fill="#333"/>
<circle cx="291.8" cy="416.3" r="0.45" fill="#333"/>
<circle cx="286.4" cy="418.7" r="0.45" fill="#333"/>
<circle cx="300.3" cy="422.7" r="0.45" fill="#333"/>
<circle cx="303.0" cy="420.6" r="0.45" fill="#333"/>
<circle cx="302.4" cy="420.8" r="0.45" fill="#333"/>
<circle cx="300.9" cy="416.7" r="0.45" fill="#333"/>
<circle cx="319.3" cy="424.4" r="0.45" fill="#333"/>
<circle cx="313.9" cy="421.3" r="0.45" fill="#333"/>
<circle cx="296.1" cy="416.2" r="0.45" fill="#333"/>
<circle cx="295.2" cy="414.5" r="0.45" fill="#333"/>
<circle cx="311.4" cy="418.0" r="0.45" fill="#333"/>
<circle cx="314.2" cy="417.9" r="0.45" fill="#333"/>
<circle cx="317.9" cy="422.8" r="0.45" fill="#333"/>
<circle cx="285.4" cy="416.0" r="0.45" fill="#333"/>
<circle cx="316.3" cy="418.8" r="0.45" fill="#333"/>
<circle cx="318.7" cy="418.0" r="0.45" fill="#333"/>
</g>
<g filter="url(#bl03)">
<text x="224.1" y="358.0" font-size="10.7" fill="#e01c1c" textLength="28.4" lengthAdjust="spacingAndGlyphs">probe</text>
<text x="260.7" y="370.6" font-size="10.7" fill="#e01c1c" textLength="33.4" lengthAdjust="spacingAndGlyphs">sample</text>
<text x="212.9" y="396.6" font-size="10.7" fill="#e01c1c" textLength="42.8" lengthAdjust="spacingAndGlyphs">absorber</text>
<text x="284.0" y="394.9" font-size="10.7" fill="#e01c1c" textLength="37.3" lengthAdjust="spacingAndGlyphs">antenna</text>
<text x="239.3" y="418.6" font-size="10.7" fill="#e01c1c" textLength="80.1" lengthAdjust="spacingAndGlyphs">rotating platform</text>
</g>
</g>
<clipPath id="cpC"><rect x="405.3" y="239.3" width="276.99999999999994" height="200.09999999999997"/></clipPath>
<g clip-path="url(#cpC)" fill="none" stroke-linejoin="round">
<polyline points="405.3,283.2 407.3,284.0 409.3,285.0 411.3,286.3 413.3,287.6 415.3,288.9 417.3,290.3 419.3,291.6 421.3,292.9 423.3,294.2 425.3,295.5 427.3,296.8 429.3,298.1 431.3,299.4 433.3,300.7 435.3,302.0 437.3,303.3 439.3,304.6 441.3,305.9 443.3,307.2 445.3,308.5 447.3,309.8 449.3,311.1 451.3,312.4 453.3,313.6 455.3,314.9 457.3,316.1 459.3,317.3 461.3,318.6 463.3,319.7 465.3,320.9 467.3,322.0 469.3,323.2 471.3,324.3 473.3,325.4 475.3,326.6 477.3,327.8 479.3,329.0 481.3,330.2 483.3,331.5 485.3,332.9 487.3,334.3 489.3,335.8 491.3,337.4 493.3,339.0 495.3,340.6 497.3,342.3 499.3,344.0 501.3,345.8 503.3,347.6 505.3,349.4 507.3,351.2 509.3,352.9 511.3,354.7 513.3,356.4 515.3,358.0 517.3,359.6 519.3,361.1 521.3,362.7 523.3,364.3 525.3,366.0 527.3,367.8 529.3,369.7 531.3,371.7 533.3,373.7 535.3,375.7 537.3,377.6 539.3,379.5 541.3,381.3 543.3,383.1 545.3,384.8 547.3,386.4 549.3,387.9 551.3,389.3 553.3,390.5 555.3,391.6 557.3,392.6 559.3,393.6 561.3,394.5 563.3,395.2 565.3,395.6 567.3,395.6 569.3,395.3 571.3,394.7 573.3,393.9 575.3,393.0 577.3,392.0 579.3,391.0 581.3,389.9 583.3,388.7 585.3,387.4 587.3,385.7 589.3,383.7 591.3,381.5 593.3,379.1 595.3,376.7 597.3,374.3 599.3,372.1 601.3,369.9 603.3,367.8 605.3,365.7 607.3,363.5 609.3,361.4 611.3,359.2 613.3,357.0 615.3,354.8 617.3,352.6 619.3,350.5 621.3,348.4 623.3,346.4 625.3,344.4 627.3,342.5 629.3,340.6 631.3,338.7 633.3,336.9 635.3,334.9 637.3,333.1 639.3,331.2 641.3,329.5 643.3,327.9 645.3,326.5 647.3,325.2 649.3,323.9 651.3,322.7 653.3,321.5 655.3,320.4 657.3,319.3 659.3,318.4 661.3,317.5 663.3,316.7 665.3,315.9 667.3,315.1 669.3,314.4 671.3,313.7 673.3,313.0 675.3,312.4 677.3,311.9 679.3,311.5 681.3,311.3" stroke="#1a7a1a" stroke-width="0.9" stroke-dasharray="6,2.2,1.2,2.2"/>
<polyline points="405.3,267.9 407.3,268.8 409.3,269.9 411.3,271.5 413.3,273.0 415.3,274.6 417.3,276.2 419.3,277.8 421.3,279.4 423.3,281.1 425.3,282.9 427.3,284.6 429.3,286.4 431.3,288.3 433.3,290.1 435.3,292.0 437.3,293.8 439.3,295.6 441.3,297.5 443.3,299.5 445.3,301.6 447.3,303.8 449.3,306.2 451.3,308.6 453.3,311.0 455.3,313.4 457.3,315.8 459.3,318.3 461.3,320.7 463.3,323.1 465.3,325.6 467.3,328.0 469.3,330.5 471.3,333.0 473.3,335.6 475.3,338.3 477.3,341.1 479.3,344.0 481.3,346.9 483.3,349.8 485.3,352.7 487.3,355.6 489.3,358.6 491.3,361.6 493.3,364.7 495.3,367.9 497.3,371.1 499.3,374.3 501.3,377.4 503.3,380.5 505.3,383.3 507.3,386.0 509.3,388.5 511.3,390.8 513.3,393.1 515.3,395.2 517.3,397.2 519.3,399.1 521.3,400.9 523.3,402.4 525.3,403.5 527.3,404.3 529.3,404.7 531.3,404.7 533.3,404.4 535.3,403.9 537.3,403.3 539.3,402.3 541.3,401.2 543.3,399.7 545.3,398.1 547.3,396.4 549.3,394.5 551.3,392.5 553.3,390.5 555.3,388.6 557.3,386.6 559.3,384.6 561.3,382.4 563.3,380.0 565.3,377.4 567.3,374.7 569.3,372.0 571.3,369.3 573.3,366.7 575.3,364.1 577.3,361.5 579.3,358.9 581.3,356.3 583.3,353.7 585.3,351.0 587.3,348.3 589.3,345.7 591.3,343.2 593.3,340.9 595.3,338.8 597.3,337.0 599.3,335.3 601.3,333.7 603.3,332.1 605.3,330.4 607.3,328.8 609.3,327.2 611.3,325.6 613.3,324.1 615.3,322.7 617.3,321.4 619.3,320.1 621.3,318.8 623.3,317.6 625.3,316.4 627.3,315.4 629.3,314.4 631.3,313.4 633.3,312.6 635.3,311.8 637.3,311.0 639.3,310.3 641.3,309.6 643.3,308.9 645.3,308.4 647.3,307.9 649.3,307.5 651.3,307.1 653.3,306.8 655.3,306.4 657.3,306.1 659.3,305.7 661.3,305.4 663.3,305.1 665.3,304.9 667.3,304.7 669.3,304.5 671.3,304.4 673.3,304.3 675.3,304.3 677.3,304.3 679.3,304.3 681.3,304.3" stroke="#ee2222" stroke-width="0.9" stroke-dasharray="6,2.2,1.2,2.2"/>
<polyline points="405.3,343.3 407.3,344.7 409.3,346.7 411.3,349.2 413.3,351.9 415.3,354.6 417.3,357.3 419.3,360.1 421.3,363.0 423.3,365.9 425.3,368.8 427.3,371.7 429.3,374.6 431.3,377.6 433.3,380.6 435.3,383.7 437.3,386.8 439.3,389.9 441.3,392.8 443.3,395.7 445.3,398.3 447.3,400.9 449.3,403.4 451.3,405.8 453.3,408.2 455.3,410.4 457.3,412.5 459.3,414.5 461.3,416.3 463.3,417.9 465.3,419.2 467.3,420.3 469.3,421.1 471.3,421.6 473.3,421.6 475.3,421.3 477.3,420.5 479.3,419.3 481.3,417.8 483.3,415.9 485.3,413.9 487.3,411.6 489.3,409.3 491.3,407.0 493.3,404.6 495.3,402.2 497.3,399.8 499.3,397.3 501.3,394.7 503.3,392.0 505.3,389.4 507.3,386.7 509.3,384.1 511.3,381.6 513.3,379.1 515.3,376.7 517.3,374.3 519.3,371.9 521.3,369.6 523.3,367.2 525.3,364.7 527.3,362.2 529.3,359.6 531.3,357.0 533.3,354.5 535.3,352.0 537.3,349.5 539.3,347.0 541.3,344.6 543.3,342.3 545.3,340.0 547.3,337.7 549.3,335.6 551.3,333.5 553.3,331.5 555.3,329.6 557.3,327.8 559.3,326.1 561.3,324.5 563.3,323.0 565.3,321.5 567.3,320.2 569.3,318.9 571.3,317.7 573.3,316.5 575.3,315.3 577.3,314.1 579.3,312.8 581.3,311.5 583.3,310.1 585.3,308.7 587.3,307.3 589.3,306.1 591.3,305.0 593.3,304.0 595.3,303.1 597.3,302.3 599.3,301.5 601.3,300.7 603.3,299.9 605.3,299.1 607.3,298.3 609.3,297.6 611.3,296.8 613.3,296.2 615.3,295.6 617.3,295.1 619.3,294.6 621.3,294.1 623.3,293.7 625.3,293.3 627.3,292.9 629.3,292.7 631.3,292.5 633.3,292.4 635.3,292.3 637.3,292.3 639.3,292.3 641.3,292.2 643.3,292.2 645.3,292.2 647.3,292.2 649.3,292.2 651.3,292.2 653.3,292.3 655.3,292.4 657.3,292.5 659.3,292.6 661.3,292.7 663.3,292.9 665.3,293.0 667.3,293.2 669.3,293.4 671.3,293.6 673.3,293.8 675.3,294.1 677.3,294.3 679.3,294.6 681.3,294.7" stroke="#2222e0" stroke-width="0.9" stroke-dasharray="6,2.2,1.2,2.2"/>
<polyline points="405.8,290.1 407.1,291.5 408.3,290.5 409.6,292.5 410.8,292.2 412.1,292.3 413.3,292.7 414.6,290.2 415.8,290.1 417.1,290.8 418.3,291.2 419.6,290.5 420.8,291.0 422.1,290.1 423.3,291.7 424.6,292.7 425.8,293.2 427.1,294.2 428.3,295.2 429.6,297.1 430.8,297.5 432.1,297.7 433.3,298.3 434.6,297.5 435.8,298.8 437.1,299.3 438.3,300.1 439.6,299.4 440.8,300.2 442.1,299.4 443.3,301.0 444.6,299.4 445.8,299.0 447.1,300.0 448.3,296.5 449.6,297.8 450.8,298.8 452.1,299.7 453.3,301.7 454.6,303.1 455.8,305.0 457.1,305.9 458.3,307.5 459.6,309.4 460.8,311.0 462.1,313.5 463.3,313.9 464.6,314.6 465.8,311.8 467.1,311.8 468.3,311.2 469.6,310.7 470.8,314.3 472.1,311.7 473.3,314.0 474.6,314.4 475.8,316.7 477.1,315.4 478.3,319.3 479.6,319.5 480.8,321.4 482.1,322.5 483.3,324.4 484.6,324.1 485.8,325.8 487.1,327.1 488.3,329.8 489.6,328.7 490.8,332.4 492.1,332.2 493.3,331.2 494.6,332.0 495.8,331.6 497.1,335.6 498.3,336.9 499.6,338.7 500.8,340.6 502.1,342.5 503.3,344.4 504.6,345.8 505.8,347.4 507.1,343.8 508.3,341.9 509.6,344.8 510.8,346.3 512.0,348.1 513.3,349.1 514.5,350.7 515.8,352.7 517.0,354.7 518.3,355.2 519.5,356.5 520.8,358.7 522.0,358.1 523.3,357.4 524.5,364.9 525.8,367.4 527.0,368.5 528.3,369.5 529.5,369.7 530.8,367.9 532.0,369.5 533.3,371.6 534.5,372.9 535.8,373.7 537.0,374.2 538.3,375.8 539.5,382.3 540.8,384.7 542.0,383.7 543.3,384.1 544.5,384.6 545.8,386.1 547.0,386.1 548.3,384.4 549.5,388.6 550.8,392.3 552.0,391.9 553.3,390.3 554.5,389.7 555.8,390.6 557.0,391.8 558.3,393.9 559.5,395.4 560.8,398.8 562.0,399.8 563.3,400.7 564.5,399.8 565.8,397.6 567.0,395.5 568.3,398.7 569.5,402.0 570.8,396.2 572.0,416.9 572.5,426.1 573.3,407.8 574.5,393.2 575.8,391.1 577.0,391.0 578.3,388.5 579.5,387.8 580.8,385.6 582.0,384.0 583.3,381.7 584.5,380.9 585.8,380.1 587.0,379.8 588.3,378.5 589.5,377.0 590.8,378.8 592.0,380.2 593.3,377.2 594.5,374.2 595.8,372.1 597.0,371.6 598.3,369.9 599.5,367.4 600.8,369.0 602.0,369.1 603.3,369.2 604.5,366.5 605.8,362.0 607.0,356.9 608.3,355.7 609.5,356.5 610.8,356.2 612.0,357.3 613.3,357.6 614.5,354.5 615.8,354.9 617.0,354.0 618.3,352.6 619.5,351.8 620.8,354.3 622.0,352.6 623.3,350.3 624.5,347.4 625.8,348.7 627.0,349.5 628.3,349.2 629.5,349.4 630.8,348.0 632.0,350.1 633.3,351.2 634.5,351.6 635.8,352.9 637.0,350.4 638.3,351.2 639.5,347.3 640.8,346.7 642.0,350.1 643.3,350.8 644.5,349.6 645.8,349.2 647.0,347.1 648.3,347.5 649.5,347.0 650.8,348.4 652.0,350.0 653.3,350.2 654.5,350.0 655.8,348.2 657.0,349.0 658.3,351.8 659.5,353.9 660.8,354.1 662.0,351.5 663.3,353.9 664.5,352.6 665.8,354.9 667.0,354.1 668.3,355.3 669.5,353.5 670.8,353.1 672.0,352.9 673.3,351.4 674.5,350.7 675.8,349.8 677.0,352.9 678.3,352.1 679.5,352.8 680.8,352.4" stroke="#1a7a1a" stroke-width="0.75"/>
<polyline points="405.8,288.5 407.1,288.9 408.3,288.4 409.6,289.1 410.8,289.6 412.1,289.3 413.3,290.3 414.6,288.5 415.8,290.0 417.1,290.1 418.3,290.8 419.6,292.0 420.8,293.1 422.1,294.0 423.3,295.0 424.6,297.1 425.8,297.0 427.1,296.0 428.3,298.2 429.6,298.4 430.8,299.1 432.1,301.1 433.3,300.6 434.6,299.9 435.8,302.2 437.1,302.5 438.3,302.9 439.6,304.2 440.8,305.4 442.1,306.7 443.3,307.3 444.6,308.5 445.8,309.5 447.1,305.6 448.3,304.1 449.6,307.1 450.8,310.6 452.1,310.8 453.3,313.6 454.6,312.8 455.8,314.6 457.1,318.2 458.3,320.4 459.6,323.8 460.8,327.8 462.1,328.6 463.3,326.8 464.6,326.1 465.8,329.0 467.1,329.9 468.3,331.1 469.6,332.0 470.8,329.6 472.1,329.7 473.3,329.2 474.6,328.4 475.8,337.8 477.1,337.7 478.3,335.3 479.6,333.5 480.8,332.9 482.1,334.5 483.3,332.9 484.6,334.0 485.8,334.1 487.1,334.5 488.3,336.0 489.6,336.6 490.8,337.4 492.1,337.4 493.3,339.7 494.6,341.3 495.8,340.0 497.1,339.4 498.3,341.8 499.6,343.7 500.8,347.5 502.1,347.5 503.3,350.6 504.6,351.1 505.8,355.8 507.1,357.5 508.3,361.3 509.6,362.7 510.8,364.3 512.0,369.9 513.3,372.9 514.5,376.9 515.8,380.0 517.0,382.9 518.3,384.1 519.5,386.7 520.8,387.2 522.0,393.5 523.3,397.2 524.5,402.1 525.8,406.2 527.0,408.3 528.3,409.2 529.5,403.7 530.8,404.2 532.0,410.0 533.3,408.2 534.5,407.7 535.8,411.3 537.0,413.4 538.3,411.7 539.5,409.5 540.8,405.5 542.0,401.5 543.3,398.6 544.5,394.5 545.8,391.8 547.0,392.0 548.3,388.2 549.5,386.4 550.8,383.9 552.0,381.2 553.3,382.2 554.5,382.5 555.8,381.2 557.0,379.0 558.3,380.1 559.5,381.1 560.8,380.7 562.0,380.7 563.3,377.3 564.5,372.1 565.8,369.3 567.0,368.3 568.3,368.0 569.5,368.3 570.8,367.3 572.0,366.2 573.3,365.2 574.5,364.1 575.8,362.4 577.0,358.4 578.3,356.8 579.5,354.2 580.8,354.5 582.0,352.2 583.3,347.3 584.5,346.4 585.8,348.5 587.0,347.3 588.3,343.5 589.5,340.8 590.8,338.7 592.0,334.5 593.3,333.0 594.5,334.1 595.8,334.1 597.0,332.3 598.3,330.5 599.5,326.2 600.8,324.9 602.0,323.1 603.3,322.4 604.5,322.7 605.8,319.4 607.0,317.2 608.3,317.3 609.5,313.1 610.8,311.3 612.0,309.1 613.3,307.6 614.5,305.5 615.8,306.6 617.0,305.1 618.3,305.5 619.5,306.6 620.8,307.7 622.0,307.8 623.3,306.7 624.5,303.1 625.8,303.0 627.0,303.5 628.3,304.1 629.5,304.2 630.8,304.3 632.0,303.6 633.3,304.2 634.5,302.4 635.8,304.9 637.0,304.2 638.3,305.8 639.5,304.5 640.8,302.3 642.0,300.1 643.3,301.9 644.5,300.3 645.8,300.4 647.0,301.1 648.3,300.3 649.5,299.3 650.8,297.7 652.0,297.5 653.3,298.2 654.5,296.3 655.8,297.0 657.0,297.8 658.3,299.5 659.5,300.5 660.8,303.0 662.0,301.9 663.3,302.2 664.5,301.2 665.8,299.8 667.0,299.2 668.3,298.6 669.5,297.2 670.8,297.3 672.0,297.4 673.3,295.9 674.5,294.3 675.8,293.9 677.0,292.6 678.3,292.2 679.5,290.5 680.8,289.4" stroke="#ee2222" stroke-width="0.75"/>
<polyline points="405.8,372.5 407.1,376.3 408.3,379.7 409.6,375.0 410.8,373.7 412.1,371.8 413.3,379.4 414.6,379.9 415.8,377.6 417.1,378.5 418.3,382.1 419.6,384.2 420.8,382.1 422.1,380.8 423.3,382.1 424.6,388.2 425.8,388.8 427.1,386.9 428.3,385.2 429.6,389.8 430.8,392.2 432.1,392.5 433.3,390.8 434.6,388.2 435.8,386.2 437.1,386.1 438.3,390.1 439.6,391.7 440.8,397.7 442.1,401.6 443.3,402.0 444.6,402.4 445.8,405.5 447.1,404.8 448.3,398.5 449.6,400.2 450.8,406.2 452.1,406.7 453.3,402.1 454.6,405.3 455.8,410.4 457.1,409.7 458.3,409.7 459.6,411.4 460.8,412.5 462.1,413.8 463.3,415.4 464.6,419.9 465.8,420.4 467.1,418.2 468.3,417.7 469.6,420.7 470.8,421.5 472.1,420.8 473.3,420.9 474.6,419.7 475.8,416.7 477.1,420.3 478.3,415.6 479.6,406.7 480.8,408.4 482.1,408.5 483.3,409.6 484.6,409.0 485.8,410.9 487.1,414.0 488.3,410.8 489.6,407.7 490.8,406.8 492.1,409.8 493.3,411.0 494.6,409.0 495.8,406.4 497.1,402.0 498.3,400.7 499.6,399.9 500.8,396.9 502.1,396.5 503.3,396.2 504.6,394.7 505.8,392.2 507.1,388.3 508.3,388.8 509.6,385.8 510.8,384.7 512.0,383.3 513.3,380.6 514.5,379.5 515.8,378.3 517.0,379.1 518.3,375.2 519.5,373.9 520.8,373.4 522.0,373.4 523.3,372.8 524.5,372.2 525.8,370.7 527.0,368.9 528.3,370.4 529.5,369.4 530.8,368.9 532.0,367.0 533.3,365.5 534.5,364.9 535.8,362.2 537.0,361.1 538.3,359.7 539.5,359.1 540.8,358.7 542.0,356.1 543.3,354.7 544.5,352.5 545.8,350.8 547.0,348.7 548.3,347.2 549.5,347.3 550.8,346.1 552.0,342.6 553.3,341.1 554.5,339.0 555.8,337.2 557.0,335.5 558.3,332.2 559.5,332.8 560.8,333.7 562.0,331.7 563.3,330.3 564.5,327.4 565.8,324.4 567.0,324.5 568.3,323.0 569.5,322.7 570.8,321.7 571.8,321.0 572.0,320.8 573.3,319.7 574.5,318.5 575.8,318.3 577.0,316.1 578.3,314.7 579.5,314.4 580.8,313.9 582.0,312.8 583.3,311.8 584.5,306.1 585.8,304.3 587.0,304.6 588.3,302.7 589.5,300.5 590.8,301.3 592.0,301.3 593.3,302.0 594.5,303.1 595.8,301.3 597.0,301.3 598.3,300.2 599.5,300.4 600.8,302.2 602.0,303.2 603.3,299.8 604.5,298.2 605.8,298.3 607.0,296.3 608.3,295.6 609.5,295.9 610.8,293.2 612.0,294.0 613.3,292.4 614.5,291.5 615.8,291.5 617.0,292.3 618.3,291.0 619.5,289.4 620.8,289.9 622.0,291.9 623.3,291.9 624.5,290.8 625.8,293.5 627.0,291.1 628.3,289.9 629.5,289.7 630.8,289.5 632.0,290.5 633.3,294.1 634.5,293.0 635.8,292.7 637.0,292.0 638.3,292.8 639.5,292.3 640.8,292.7 642.0,291.4 643.3,291.6 644.5,291.0 645.8,290.5 647.0,290.5 648.3,290.7 649.5,290.7 650.8,292.0 652.0,291.8 653.3,291.0 654.5,292.4 655.8,292.5 657.0,293.6 658.3,292.7 659.5,293.0 660.8,292.9 662.0,293.5 663.3,293.7 664.5,293.5 665.8,293.2 667.0,293.8 668.3,293.4 669.5,293.1 670.8,291.9 672.0,292.2 673.3,290.8 674.5,290.1 675.8,290.0 677.0,290.5 678.3,288.9 679.5,288.7 680.8,289.1" stroke="#2222e0" stroke-width="0.75"/>
</g>
<rect x="405.3" y="239.3" width="276.99999999999994" height="200.09999999999997" fill="none" stroke="#808080" stroke-width="0.9"/>
<text x="401.5" y="244.8" font-size="13.5" text-anchor="end" fill="#1a1a1a" >−38</text>
<line x1="405.3" y1="267.9" x2="408.3" y2="267.9" stroke="#808080" stroke-width="0.9"/>
<line x1="682.3" y1="267.9" x2="679.3" y2="267.9" stroke="#808080" stroke-width="0.9"/>
<text x="401.5" y="273.4" font-size="13.5" text-anchor="end" fill="#1a1a1a" >−40</text>
<line x1="405.3" y1="296.5" x2="408.3" y2="296.5" stroke="#808080" stroke-width="0.9"/>
<line x1="682.3" y1="296.5" x2="679.3" y2="296.5" stroke="#808080" stroke-width="0.9"/>
<text x="401.5" y="302.0" font-size="13.5" text-anchor="end" fill="#1a1a1a" >−42</text>
<line x1="405.3" y1="325.1" x2="408.3" y2="325.1" stroke="#808080" stroke-width="0.9"/>
<line x1="682.3" y1="325.1" x2="679.3" y2="325.1" stroke="#808080" stroke-width="0.9"/>
<text x="401.5" y="330.6" font-size="13.5" text-anchor="end" fill="#1a1a1a" >−44</text>
<line x1="405.3" y1="353.6" x2="408.3" y2="353.6" stroke="#808080" stroke-width="0.9"/>
<line x1="682.3" y1="353.6" x2="679.3" y2="353.6" stroke="#808080" stroke-width="0.9"/>
<text x="401.5" y="359.1" font-size="13.5" text-anchor="end" fill="#1a1a1a" >−46</text>
<line x1="405.3" y1="382.2" x2="408.3" y2="382.2" stroke="#808080" stroke-width="0.9"/>
<line x1="682.3" y1="382.2" x2="679.3" y2="382.2" stroke="#808080" stroke-width="0.9"/>
<text x="401.5" y="387.7" font-size="13.5" text-anchor="end" fill="#1a1a1a" >−48</text>
<line x1="405.3" y1="410.8" x2="408.3" y2="410.8" stroke="#808080" stroke-width="0.9"/>
<line x1="682.3" y1="410.8" x2="679.3" y2="410.8" stroke="#808080" stroke-width="0.9"/>
<text x="401.5" y="416.3" font-size="13.5" text-anchor="end" fill="#1a1a1a" >−50</text>
<text x="401.5" y="444.9" font-size="13.5" text-anchor="end" fill="#1a1a1a" >−52</text>
<text x="404.0" y="455" font-size="13" text-anchor="middle" fill="#1a1a1a" >17.8</text>
<line x1="466.9" y1="439.4" x2="466.9" y2="436.4" stroke="#808080" stroke-width="0.9"/>
<line x1="466.9" y1="239.3" x2="466.9" y2="242.3" stroke="#808080" stroke-width="0.9"/>
<text x="466.9" y="455" font-size="13" text-anchor="middle" fill="#1a1a1a" >18</text>
<line x1="528.4" y1="439.4" x2="528.4" y2="436.4" stroke="#808080" stroke-width="0.9"/>
<line x1="528.4" y1="239.3" x2="528.4" y2="242.3" stroke="#808080" stroke-width="0.9"/>
<text x="528.4" y="455" font-size="13" text-anchor="middle" fill="#1a1a1a" >18.2</text>
<line x1="590.0" y1="439.4" x2="590.0" y2="436.4" stroke="#808080" stroke-width="0.9"/>
<line x1="590.0" y1="239.3" x2="590.0" y2="242.3" stroke="#808080" stroke-width="0.9"/>
<text x="590.0" y="455" font-size="13" text-anchor="middle" fill="#1a1a1a" >18.4</text>
<line x1="651.5" y1="439.4" x2="651.5" y2="436.4" stroke="#808080" stroke-width="0.9"/>
<line x1="651.5" y1="239.3" x2="651.5" y2="242.3" stroke="#808080" stroke-width="0.9"/>
<text x="651.5" y="455" font-size="13" text-anchor="middle" fill="#1a1a1a" >18.6</text>
<text x="462.8" y="478.4" font-size="16.5" fill="#1a1a1a" textLength="130" lengthAdjust="spacingAndGlyphs">Frequency (GHz)</text>
<text transform="translate(366.4,416) rotate(-90)" font-size="17.3" fill="#1a1a1a" textLength="143.2" lengthAdjust="spacingAndGlyphs">Transmission (dB)</text>
<line x1="450.2" y1="250.3" x2="467.9" y2="250.3" stroke="#2222e0" stroke-width="0.9" stroke-dasharray="5,1.8,1.2,1.8"/>
<text x="471.8" y="255.1" font-size="12.4" fill="#1a1a1a" textLength="72.8" lengthAdjust="spacingAndGlyphs"><tspan font-style="italic">ϑ</tspan>=<tspan>20</tspan><tspan font-size="8.5" dy="-5.6">o</tspan><tspan dy="5.6">siuml.</tspan></text>
<line x1="557.3" y1="250.3" x2="575.2" y2="250.3" stroke="#2222e0" stroke-width="0.9"/>
<text x="578.9" y="255.1" font-size="12.4" fill="#1a1a1a" textLength="72.8" lengthAdjust="spacingAndGlyphs"><tspan font-style="italic">ϑ</tspan>=<tspan>20</tspan><tspan font-size="8.5" dy="-5.6">o</tspan><tspan dy="5.6">meas.</tspan></text>
<line x1="450.2" y1="267.2" x2="467.9" y2="267.2" stroke="#ee2222" stroke-width="0.9" stroke-dasharray="5,1.8,1.2,1.8"/>
<text x="471.8" y="272.2" font-size="12.4" fill="#1a1a1a" textLength="72.8" lengthAdjust="spacingAndGlyphs"><tspan font-style="italic">ϑ</tspan>=<tspan>18</tspan><tspan font-size="8.5" dy="-5.6">o</tspan><tspan dy="5.6">siuml.</tspan></text>
<line x1="557.3" y1="267.2" x2="575.2" y2="267.2" stroke="#ee2222" stroke-width="0.9"/>
<text x="578.9" y="272.2" font-size="12.4" fill="#1a1a1a" textLength="72.8" lengthAdjust="spacingAndGlyphs"><tspan font-style="italic">ϑ</tspan>=<tspan>18</tspan><tspan font-size="8.5" dy="-5.6">o</tspan><tspan dy="5.6">meas.</tspan></text>
<line x1="450.2" y1="282.9" x2="467.9" y2="282.9" stroke="#1a7a1a" stroke-width="0.9" stroke-dasharray="5,1.8,1.2,1.8"/>
<text x="471.8" y="287.7" font-size="12.4" fill="#1a1a1a" textLength="72.8" lengthAdjust="spacingAndGlyphs"><tspan font-style="italic">ϑ</tspan>=<tspan>16</tspan><tspan font-size="8.5" dy="-5.6">o</tspan><tspan dy="5.6">siuml.</tspan></text>
<line x1="557.3" y1="282.9" x2="575.2" y2="282.9" stroke="#1a7a1a" stroke-width="0.9"/>
<text x="578.9" y="287.7" font-size="12.4" fill="#1a1a1a" textLength="72.8" lengthAdjust="spacingAndGlyphs"><tspan font-style="italic">ϑ</tspan>=<tspan>16</tspan><tspan font-size="8.5" dy="-5.6">o</tspan><tspan dy="5.6">meas.</tspan></text>
<text transform="translate(7.3,70.2) scale(0.88,1)" font-size="26" font-weight="bold" fill="#000">a</text>
<text transform="translate(3.6,241.2) scale(1.0,1)" font-size="26" font-weight="bold" fill="#000">b</text>
<text transform="translate(355.8,247.6) scale(0.82,1)" font-size="26" font-weight="bold" fill="#000">c</text>
</svg>
</body></html>
